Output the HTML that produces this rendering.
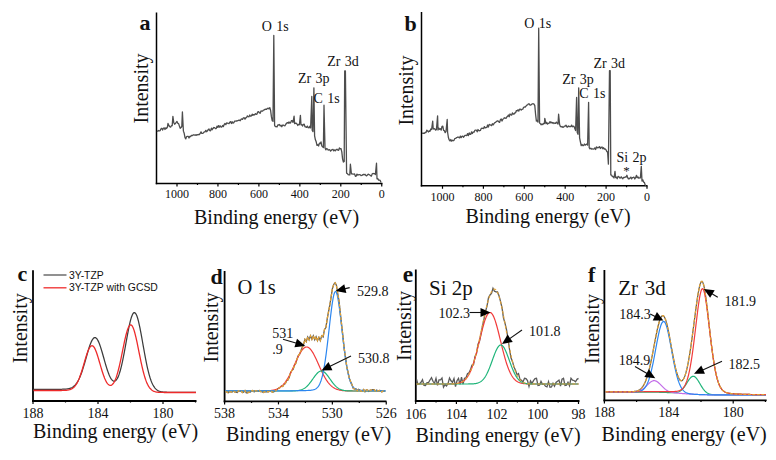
<!DOCTYPE html>
<html><head><meta charset="utf-8"><style>
html,body{margin:0;padding:0;background:#fff;width:776px;height:460px;overflow:hidden}
svg{display:block}
</style></head><body>
<svg width="776" height="460" viewBox="0 0 776 460">
<rect width="776" height="460" fill="#fff"/>
<line x1="156.5" y1="12.5" x2="156.5" y2="184.25" stroke="#000" stroke-width="1.5"/>
<line x1="155.75" y1="183.5" x2="382.5" y2="183.5" stroke="#000" stroke-width="1.5"/>
<line x1="381.75" y1="183.5" x2="381.75" y2="186.5" stroke="#000" stroke-width="1.2"/>
<line x1="340.8" y1="183.5" x2="340.8" y2="186.5" stroke="#000" stroke-width="1.2"/>
<line x1="299.85" y1="183.5" x2="299.85" y2="186.5" stroke="#000" stroke-width="1.2"/>
<line x1="258.9" y1="183.5" x2="258.9" y2="186.5" stroke="#000" stroke-width="1.2"/>
<line x1="217.95" y1="183.5" x2="217.95" y2="186.5" stroke="#000" stroke-width="1.2"/>
<line x1="177" y1="183.5" x2="177" y2="186.5" stroke="#000" stroke-width="1.2"/>
<line x1="361.27" y1="183.5" x2="361.27" y2="185" stroke="#000" stroke-width="1.2"/>
<line x1="320.32" y1="183.5" x2="320.32" y2="185" stroke="#000" stroke-width="1.2"/>
<line x1="279.38" y1="183.5" x2="279.38" y2="185" stroke="#000" stroke-width="1.2"/>
<line x1="238.43" y1="183.5" x2="238.43" y2="185" stroke="#000" stroke-width="1.2"/>
<line x1="197.48" y1="183.5" x2="197.48" y2="185" stroke="#000" stroke-width="1.2"/>
<text x="177" y="197.6" font-family='"Liberation Serif", serif' font-size="12" font-weight="normal" text-anchor="middle" fill="#111" >1000</text>
<text x="217.95" y="197.6" font-family='"Liberation Serif", serif' font-size="12" font-weight="normal" text-anchor="middle" fill="#111" >800</text>
<text x="258.9" y="197.6" font-family='"Liberation Serif", serif' font-size="12" font-weight="normal" text-anchor="middle" fill="#111" >600</text>
<text x="299.85" y="197.6" font-family='"Liberation Serif", serif' font-size="12" font-weight="normal" text-anchor="middle" fill="#111" >400</text>
<text x="340.8" y="197.6" font-family='"Liberation Serif", serif' font-size="12" font-weight="normal" text-anchor="middle" fill="#111" >200</text>
<text x="381.75" y="197.6" font-family='"Liberation Serif", serif' font-size="12" font-weight="normal" text-anchor="middle" fill="#111" >0</text>
<text x="276.6" y="224" font-family='"Liberation Serif", serif' font-size="20" font-weight="normal" text-anchor="middle" fill="#111" >Binding energy (eV)</text>
<text transform="translate(148,88.5) rotate(-90)" font-family='"Liberation Serif", serif' font-size="20" text-anchor="middle" fill="#111">Intensity</text>
<text x="139.5" y="29.5" font-family='"Liberation Serif", serif' font-size="22" font-weight="bold" text-anchor="start" fill="#111" >a</text>
<path d="M157,130.82 L157.8,131.29 L158.6,130.51 L159.4,130.79 L160.2,130.52 L161,128.73 L161.8,128.27 L162.6,130.09 L163.4,128.26 L164.2,127.86 L165,129.52 L165.8,127.82 L166.6,128.45 L167.4,127.18 L168,123.4 L169,125.76 L169.8,126.75 L170.6,127.09 L171.4,125.74 L172.2,125.67 L172.9,116.3 L173.8,122.75 L174.6,124.26 L175.4,123.52 L176.2,122.46 L177,121.46 L177.8,123.33 L178.6,123.6 L179.4,126.06 L180.2,128.3 L181,127.56 L181.8,126.49 L182.4,112 L183.4,131.14 L184.2,133.27 L185,137.6 L185.8,138.85 L186.6,136.55 L187.4,136.38 L188.2,136.32 L189,137.99 L189.8,136.35 L190.6,136.57 L191.4,135.45 L192.2,135.72 L193,135.13 L193.8,134.77 L194.6,135.11 L195.4,134.84 L196.2,135.4 L197,134.55 L197.8,134.92 L198.6,134.46 L199.4,134.54 L200.2,133.44 L201,131.85 L201.8,133.4 L202.6,133.4 L203.4,132.98 L204.2,131.83 L205,131.94 L205.8,130.37 L206.6,131.71 L207.4,130.77 L208.2,129.75 L209,128.91 L209.8,130.69 L210.6,130.78 L211.4,128.16 L212.2,129.75 L213,128.46 L213.8,127.52 L214.6,127.62 L215.4,128.59 L216.2,128.59 L217,126.17 L217.8,127.38 L218.6,125.63 L219.4,127.11 L220.2,125.84 L221,127 L221.8,126.99 L222.6,125.49 L223.4,126.5 L224.2,124.44 L225,123.56 L225.8,124.66 L226.6,122.91 L227.4,123.07 L228.2,123.35 L229,123.61 L229.8,122.16 L230.6,121.59 L231.4,123.47 L232.2,121.76 L233,123.17 L233.8,122.74 L234.6,121.12 L235.4,121.07 L236.2,120.95 L237,121.01 L237.8,120.61 L238.6,120.25 L239.4,120.14 L240.2,120.7 L241,119.31 L241.8,118.84 L242.6,119.32 L243.4,117.8 L244.2,117.7 L245,119.19 L245.8,117.73 L246.6,117.53 L247.4,115.87 L248.2,116.65 L249,116.81 L249.8,115.03 L250.6,116.26 L251.4,115.98 L252.2,114.18 L253,115.33 L253.8,114.59 L254.6,114.83 L255.4,113.66 L256.2,114.26 L257,114.02 L257.8,111.84 L258.6,111.59 L259.4,112.83 L260.2,113.21 L261,111 L261.8,111.18 L262.6,111.17 L263.4,110.1 L264.2,109.86 L265,109.36 L265.8,109.15 L266.6,109.41 L267.4,108.33 L268.2,108.21 L269,108.93 L269.8,107.66 L270.6,110.32 L271.4,116.67 L272.2,120.71 L273,121.28 L273.8,35.5 L274.6,125.32 L275.4,126.57 L276.2,126.73 L277,126.93 L277.8,124.9 L278.6,125 L279.4,124.55 L280.2,125.91 L281,125.27 L281.8,126.74 L282.6,125.14 L283.4,125.17 L284.2,125.58 L285,125.79 L285.8,124.26 L286.6,123.26 L287.4,122.59 L288.2,123.25 L289,121.96 L289.8,123.16 L290.6,122.84 L291.4,120.73 L292.2,120.57 L293,122.45 L294.1,116.2 L294.6,123.69 L295.4,123.12 L296.2,123.18 L297,123.93 L297.8,125.47 L298.6,124.34 L299.4,124.77 L300.4,115.3 L301,124.75 L301.8,124.6 L302.6,126.06 L303.4,124.29 L304.2,124.12 L305,126.78 L305.8,126.83 L306.6,127.33 L307.4,126.11 L308.2,127.68 L309,127.84 L309.8,126.22 L310.6,127.94 L311.8,96.5 L312.2,130.26 L313,131.6 L313.9,87.8 L314.6,135.82 L315.4,139.76 L316.2,141.84 L317,145.43 L317.8,144.65 L318.6,146.01 L319.4,143.13 L320.2,143.6 L321,141.91 L321.8,145.78 L322.6,146.83 L323.4,147.64 L324,105.2 L325,147.73 L325.8,149.8 L326.6,148.47 L327.4,148.96 L328.2,150.06 L329,149.86 L329.8,149.74 L330.6,151.14 L331.4,150.29 L332.2,149.59 L333,149.36 L333.8,150.94 L334.6,149.94 L335.4,150.73 L336.2,149.61 L337,149.21 L337.8,150.09 L338.6,150.32 L339.4,147.98 L340.2,148.93 L341,148.6 L341.8,151.83 L342.6,159.06 L343.4,162.05 L344.2,161.43 L344.7,71 L345.4,71 L346.6,173.16 L347.4,173.57 L348.2,174.65 L349,174.8 L349.8,174.94 L350.4,164.2 L351.4,173.75 L352.2,173.9 L353,174.1 L353.8,174.11 L354.6,173.98 L355.4,176.35 L356.2,176.05 L357,174.06 L357.8,175.16 L358.6,174.69 L359.4,174.7 L360.2,174.81 L361,175.59 L361.8,175.45 L362.6,174.87 L363.4,174.45 L364.2,174.82 L365,174.3 L365.8,175.44 L366.6,175.87 L367.4,175.01 L368.2,174.24 L369,174.51 L369.8,175.03 L370.6,175.65 L371.4,176.12 L372.2,173.89 L373,173.5 L373.8,173.55 L374.6,173.57 L375.4,174.51 L376.5,163.2 L377,178.73 L377.8,178.69 L378.6,180.09 L379.4,180.18 L380.2,180.44 L381,182.43" fill="none" stroke="#4d4d4d" stroke-width="1.3" stroke-linejoin="round"/>
<text x="261.8" y="31.3" font-family='"Liberation Serif", serif' font-size="14" font-weight="normal" text-anchor="start" fill="#111" word-spacing="0.8">O 1s</text>
<text x="298" y="83" font-family='"Liberation Serif", serif' font-size="14" font-weight="normal" text-anchor="start" fill="#111" word-spacing="0.8">Zr 3p</text>
<text x="313.6" y="102.6" font-family='"Liberation Serif", serif' font-size="14" font-weight="normal" text-anchor="start" fill="#111" word-spacing="0.8">C 1s</text>
<text x="327.2" y="66.3" font-family='"Liberation Serif", serif' font-size="14" font-weight="normal" text-anchor="start" fill="#111" word-spacing="0.8">Zr 3d</text>
<line x1="421.5" y1="12" x2="421.5" y2="186.5" stroke="#000" stroke-width="1.5"/>
<line x1="420.75" y1="185.75" x2="647.5" y2="185.75" stroke="#000" stroke-width="1.5"/>
<line x1="647" y1="185.75" x2="647" y2="188.75" stroke="#000" stroke-width="1.2"/>
<line x1="606.1" y1="185.75" x2="606.1" y2="188.75" stroke="#000" stroke-width="1.2"/>
<line x1="565.2" y1="185.75" x2="565.2" y2="188.75" stroke="#000" stroke-width="1.2"/>
<line x1="524.3" y1="185.75" x2="524.3" y2="188.75" stroke="#000" stroke-width="1.2"/>
<line x1="483.4" y1="185.75" x2="483.4" y2="188.75" stroke="#000" stroke-width="1.2"/>
<line x1="442.5" y1="185.75" x2="442.5" y2="188.75" stroke="#000" stroke-width="1.2"/>
<line x1="626.55" y1="185.75" x2="626.55" y2="187.25" stroke="#000" stroke-width="1.2"/>
<line x1="585.65" y1="185.75" x2="585.65" y2="187.25" stroke="#000" stroke-width="1.2"/>
<line x1="544.75" y1="185.75" x2="544.75" y2="187.25" stroke="#000" stroke-width="1.2"/>
<line x1="503.85" y1="185.75" x2="503.85" y2="187.25" stroke="#000" stroke-width="1.2"/>
<line x1="462.95" y1="185.75" x2="462.95" y2="187.25" stroke="#000" stroke-width="1.2"/>
<text x="442.5" y="201" font-family='"Liberation Serif", serif' font-size="12" font-weight="normal" text-anchor="middle" fill="#111" >1000</text>
<text x="483.4" y="201" font-family='"Liberation Serif", serif' font-size="12" font-weight="normal" text-anchor="middle" fill="#111" >800</text>
<text x="524.3" y="201" font-family='"Liberation Serif", serif' font-size="12" font-weight="normal" text-anchor="middle" fill="#111" >600</text>
<text x="565.2" y="201" font-family='"Liberation Serif", serif' font-size="12" font-weight="normal" text-anchor="middle" fill="#111" >400</text>
<text x="606.1" y="201" font-family='"Liberation Serif", serif' font-size="12" font-weight="normal" text-anchor="middle" fill="#111" >200</text>
<text x="647" y="201" font-family='"Liberation Serif", serif' font-size="12" font-weight="normal" text-anchor="middle" fill="#111" >0</text>
<text x="548" y="222.7" font-family='"Liberation Serif", serif' font-size="20" font-weight="normal" text-anchor="middle" fill="#111" >Binding energy (eV)</text>
<text transform="translate(413,90.6) rotate(-90)" font-family='"Liberation Serif", serif' font-size="20" text-anchor="middle" fill="#111">Intensity</text>
<text x="404.5" y="30.5" font-family='"Liberation Serif", serif' font-size="22" font-weight="bold" text-anchor="start" fill="#111" >b</text>
<path d="M422,133.22 L422.8,133.27 L423.6,133.14 L424.4,133.26 L425.2,132.47 L426,132.68 L426.8,130.09 L427.6,130.97 L428.4,131.94 L429.2,130.91 L430,131.31 L430.8,128.99 L431.6,129.54 L432.7,121.1 L433.2,128.99 L434,128.69 L434.8,128.9 L435.6,130.04 L436.4,129.74 L437.6,115.8 L438,130.1 L438.8,128.07 L439.6,129.27 L440.4,128.65 L441.2,130.07 L442,126.28 L442.8,126.23 L443.6,130.45 L444.4,130.69 L445.2,132.66 L446,131.33 L447.2,119.5 L447.6,132.27 L448.4,137.52 L449.2,139.93 L450,140.98 L450.8,139.51 L451.6,141.18 L452.4,140.29 L453.2,140.77 L454,140.34 L454.8,138.55 L455.6,138.47 L456.4,137.72 L457.2,137.43 L458,136.98 L458.8,137.35 L459.6,137.89 L460.4,136.09 L461.2,137.61 L462,136.48 L462.8,136.17 L463.6,137.25 L464.4,136.08 L465.2,135.31 L466,135.4 L466.8,135.63 L467.6,133.61 L468.4,135.65 L469.2,132.84 L470,134.38 L470.8,134.29 L471.6,131.8 L472.4,133.45 L473.2,132.02 L474,132.23 L474.8,130.4 L475.6,130.16 L476.4,130.17 L477.2,131.84 L478,129.52 L478.8,130.63 L479.6,130.74 L480.4,130.43 L481.2,128.54 L482,128.22 L482.8,128.32 L483.6,128.63 L484.4,126.55 L485.2,127.88 L486,127.66 L486.8,127.48 L487.6,125 L488.4,127.02 L489.2,124.46 L490,124.76 L490.8,125.12 L491.6,125.58 L492.4,123.74 L493.2,124.91 L494,123.58 L494.8,122.64 L495.6,122.31 L496.4,121.6 L497.2,121 L498,120.84 L498.8,121.91 L499.6,122.36 L500.4,119.79 L501.2,119.04 L502,121.03 L502.8,119.4 L503.6,118.61 L504.4,117.72 L505.2,118.19 L506,118.34 L506.8,116.92 L507.6,116.38 L508.4,114.97 L509.2,116.75 L510,114 L510.8,114.74 L511.6,115.18 L512.4,112.89 L513.2,114 L514,114.11 L514.8,112.82 L515.6,112.78 L516.4,110.55 L517.2,110.95 L518,109.75 L518.8,111.11 L519.6,109.22 L520.4,109.18 L521.2,110.14 L522,109.31 L522.8,109.17 L523.6,107.36 L524.4,107 L525.2,107.17 L526,106.06 L526.8,105.12 L527.6,104.96 L528.4,103.83 L529.2,103.98 L530,105.17 L530.8,105.1 L531.6,104.23 L532.4,103.9 L533.2,103.74 L534,104.13 L534.8,105.65 L535.6,114.54 L536.4,121.09 L537.2,120.4 L538,122.11 L538.7,28.25 L539.6,123.06 L540.4,123.66 L541.2,124.83 L542,123.99 L542.8,124.64 L543.6,123.3 L544.4,123.59 L544.8,118.4 L546,123.65 L546.8,122.45 L547.6,124.11 L548.4,123.3 L549.2,123.08 L550,121.56 L550.8,122.92 L551.6,122.11 L552.4,123.17 L553.2,122.58 L554,123.47 L554.8,122.99 L555.6,123.34 L556.4,122.13 L557.2,123.06 L558,124.04 L558.6,114.2 L559.6,124.5 L560.4,126.52 L561.2,126.96 L562,126.49 L562.8,127.24 L563.6,127.19 L564.4,126.05 L565.2,126.08 L566,125.13 L566.8,126.88 L567.6,127.14 L568.4,125.94 L569.2,126.5 L570,126.57 L570.8,126.6 L571.6,125.15 L572.4,126.73 L573.2,126.21 L574,126.43 L574.8,128.49 L575.6,130.55 L576.6,97.4 L577.2,132.24 L578,134.33 L578.7,87.8 L579.6,137.87 L580.4,141.93 L581.2,145.59 L582,144.47 L582.8,145.68 L583.6,145.54 L584.4,144.01 L585.2,145.13 L586,144.49 L586.8,144.04 L587.6,145.13 L588.6,102.3 L589.2,147.6 L590,148.8 L590.8,148.22 L591.6,149.17 L592.4,148.78 L593.2,149.22 L594,148.99 L594.8,147.91 L595.6,149.47 L596.4,146.96 L597.2,147.84 L598,147.34 L598.8,147.52 L599.6,146.58 L600.4,148.5 L601.2,147.59 L602,146.99 L602.8,148.78 L603.6,147.71 L604.4,149.16 L605.2,148.9 L606,149.81 L606.8,151.55 L607.6,151.94 L608.4,164.14 L609.5,70.75 L610.2,70.75 L610.8,174.96 L611.6,175.15 L612.4,176.57 L613.2,176.73 L614,177.99 L615,171.3 L615.6,177.56 L616.4,177.13 L617.2,178.72 L618,176.4 L618.8,176.68 L619.6,177.87 L620.4,178 L621.2,176.77 L622,178.04 L622.8,178.72 L623.6,177.38 L624.4,177.52 L625.2,176.99 L626,177.16 L626.9,175.3 L627.6,177.39 L628.4,178.9 L629.2,178.78 L630,177.95 L630.8,177.08 L631.6,178.95 L632.4,177.69 L633.2,177.48 L634,177.23 L634.8,178.96 L635.6,177.68 L636.5,175.3 L637.2,177.73 L638,176.87 L638.8,178.23 L639.6,177.82 L640.4,177.9 L641.3,166.3 L642,181.05 L642.8,179.81 L643.6,182.1 L644.4,182.39 L645.2,185.07 L646,185.63" fill="none" stroke="#4d4d4d" stroke-width="1.3" stroke-linejoin="round"/>
<text x="524.3" y="27.6" font-family='"Liberation Serif", serif' font-size="14" font-weight="normal" text-anchor="start" fill="#111" word-spacing="0.8">O 1s</text>
<text x="562.2" y="84.3" font-family='"Liberation Serif", serif' font-size="14" font-weight="normal" text-anchor="start" fill="#111" word-spacing="0.8">Zr 3p</text>
<text x="579.3" y="98.3" font-family='"Liberation Serif", serif' font-size="14" font-weight="normal" text-anchor="start" fill="#111" word-spacing="0.8">C 1s</text>
<text x="593.5" y="68" font-family='"Liberation Serif", serif' font-size="14" font-weight="normal" text-anchor="start" fill="#111" word-spacing="0.8">Zr 3d</text>
<text x="616.5" y="161.7" font-family='"Liberation Serif", serif' font-size="14" font-weight="normal" text-anchor="start" fill="#111" word-spacing="0.8">Si 2p</text>
<text x="626.5" y="175" font-family='"Liberation Serif", serif' font-size="13" font-weight="normal" text-anchor="middle" fill="#111" >*</text>
<line x1="33" y1="270.3" x2="33" y2="401.9" stroke="#000" stroke-width="1.8"/>
<line x1="32.1" y1="401" x2="196.5" y2="401" stroke="#000" stroke-width="1.8"/>
<line x1="33" y1="401" x2="33" y2="404" stroke="#000" stroke-width="1.2"/>
<line x1="98" y1="401" x2="98" y2="404" stroke="#000" stroke-width="1.2"/>
<line x1="163" y1="401" x2="163" y2="404" stroke="#000" stroke-width="1.2"/>
<line x1="65.5" y1="401" x2="65.5" y2="402.5" stroke="#000" stroke-width="1.2"/>
<line x1="130.5" y1="401" x2="130.5" y2="402.5" stroke="#000" stroke-width="1.2"/>
<line x1="195.5" y1="401" x2="195.5" y2="402.5" stroke="#000" stroke-width="1.2"/>
<text x="33" y="417.7" font-family='"Liberation Serif", serif' font-size="14" font-weight="normal" text-anchor="middle" fill="#111" >188</text>
<text x="98" y="417.7" font-family='"Liberation Serif", serif' font-size="14" font-weight="normal" text-anchor="middle" fill="#111" >184</text>
<text x="163" y="417.7" font-family='"Liberation Serif", serif' font-size="14" font-weight="normal" text-anchor="middle" fill="#111" >180</text>
<text x="115.6" y="437.5" font-family='"Liberation Serif", serif' font-size="20" font-weight="normal" text-anchor="middle" fill="#111" >Binding energy (eV)</text>
<text transform="translate(27,328.3) rotate(-90)" font-family='"Liberation Serif", serif' font-size="20" text-anchor="middle" fill="#111">Intensity</text>
<text x="17.5" y="281.4" font-family='"Liberation Serif", serif' font-size="22" font-weight="bold" text-anchor="start" fill="#111" >c</text>
<path d="M33.5,389.3 L34,389.3 L34.5,389.3 L35,389.3 L35.5,389.3 L36,389.3 L36.5,389.3 L37,389.3 L37.5,389.3 L38,389.3 L38.5,389.3 L39,389.3 L39.5,389.3 L40,389.3 L40.5,389.3 L41,389.3 L41.5,389.3 L42,389.3 L42.5,389.3 L43,389.3 L43.5,389.3 L44,389.3 L44.5,389.3 L45,389.3 L45.5,389.3 L46,389.3 L46.5,389.3 L47,389.3 L47.5,389.3 L48,389.3 L48.5,389.3 L49,389.3 L49.5,389.3 L50,389.3 L50.5,389.3 L51,389.3 L51.5,389.3 L52,389.3 L52.5,389.3 L53,389.3 L53.5,389.3 L54,389.3 L54.5,389.3 L55,389.3 L55.5,389.3 L56,389.3 L56.5,389.3 L57,389.3 L57.5,389.3 L58,389.29 L58.5,389.29 L59,389.29 L59.5,389.29 L60,389.28 L60.5,389.28 L61,389.27 L61.5,389.26 L62,389.25 L62.5,389.24 L63,389.23 L63.5,389.21 L64,389.19 L64.5,389.16 L65,389.13 L65.5,389.1 L66,389.05 L66.5,389 L67,388.94 L67.5,388.87 L68,388.79 L68.5,388.7 L69,388.58 L69.5,388.46 L70,388.31 L70.5,388.14 L71,387.95 L71.5,387.73 L72,387.48 L72.5,387.19 L73,386.87 L73.5,386.51 L74,386.11 L74.5,385.66 L75,385.17 L75.5,384.61 L76,384.01 L76.5,383.34 L77,382.61 L77.5,381.82 L78,380.95 L78.5,380.02 L79,379.02 L79.5,377.94 L80,376.79 L80.5,375.57 L81,374.27 L81.5,372.91 L82,371.48 L82.5,369.98 L83,368.43 L83.5,366.82 L84,365.16 L84.5,363.47 L85,361.74 L85.5,359.99 L86,358.23 L86.5,356.46 L87,354.71 L87.5,352.98 L88,351.28 L88.5,349.62 L89,348.03 L89.5,346.51 L90,345.07 L90.5,343.73 L91,342.5 L91.5,341.38 L92,340.4 L92.5,339.55 L93,338.85 L93.5,338.3 L94,337.91 L94.5,337.68 L95,337.62 L95.5,337.72 L96,337.98 L96.5,338.41 L97,338.99 L97.5,339.73 L98,340.61 L98.5,341.63 L99,342.78 L99.5,344.04 L100,345.42 L100.5,346.89 L101,348.44 L101.5,350.06 L102,351.75 L102.5,353.47 L103,355.23 L103.5,357.01 L104,358.79 L104.5,360.56 L105,362.32 L105.5,364.05 L106,365.74 L106.5,367.37 L107,368.95 L107.5,370.46 L108,371.9 L108.5,373.25 L109,374.52 L109.5,375.69 L110,376.76 L110.5,377.72 L111,378.58 L111.5,379.32 L112,379.94 L112.5,380.45 L113,380.83 L113.5,381.08 L114,381.2 L114.5,381.19 L115,381.04 L115.5,380.75 L116,380.32 L116.5,379.74 L117,379.02 L117.5,378.15 L118,377.13 L118.5,375.96 L119,374.64 L119.5,373.17 L120,371.56 L120.5,369.79 L121,367.89 L121.5,365.85 L122,363.68 L122.5,361.39 L123,358.98 L123.5,356.48 L124,353.89 L124.5,351.22 L125,348.5 L125.5,345.73 L126,342.95 L126.5,340.16 L127,337.4 L127.5,334.67 L128,332.01 L128.5,329.44 L129,326.97 L129.5,324.64 L130,322.46 L130.5,320.45 L131,318.64 L131.5,317.04 L132,315.67 L132.5,314.54 L133,313.66 L133.5,313.05 L134,312.7 L134.5,312.63 L135,312.84 L135.5,313.31 L136,314.05 L136.5,315.05 L137,316.31 L137.5,317.8 L138,319.51 L138.5,321.42 L139,323.53 L139.5,325.8 L140,328.22 L140.5,330.77 L141,333.41 L141.5,336.14 L142,338.93 L142.5,341.75 L143,344.59 L143.5,347.42 L144,350.23 L144.5,353 L145,355.72 L145.5,358.37 L146,360.93 L146.5,363.4 L147,365.76 L147.5,368.02 L148,370.16 L148.5,372.19 L149,374.09 L149.5,375.86 L150,377.52 L150.5,379.05 L151,380.47 L151.5,381.77 L152,382.96 L152.5,384.04 L153,385.03 L153.5,385.92 L154,386.72 L154.5,387.43 L155,388.07 L155.5,388.64 L156,389.14 L156.5,389.58 L157,389.97 L157.5,390.31 L158,390.61 L158.5,390.86 L159,391.09 L159.5,391.28 L160,391.44 L160.5,391.58 L161,391.7 L161.5,391.8 L162,391.89 L162.5,391.96 L163,392.02 L163.5,392.07 L164,392.11 L164.5,392.15 L165,392.17 L165.5,392.2 L166,392.22 L166.5,392.23 L167,392.25 L167.5,392.26 L168,392.27 L168.5,392.27 L169,392.28 L169.5,392.28 L170,392.29 L170.5,392.29 L171,392.29 L171.5,392.29 L172,392.29 L172.5,392.29 L173,392.3 L173.5,392.3 L174,392.3 L174.5,392.3 L175,392.3 L175.5,392.3 L176,392.3 L176.5,392.3 L177,392.3 L177.5,392.3 L178,392.3 L178.5,392.3 L179,392.3 L179.5,392.3 L180,392.3 L180.5,392.3 L181,392.3 L181.5,392.3 L182,392.3 L182.5,392.3 L183,392.3 L183.5,392.3 L184,392.3 L184.5,392.3 L185,392.3 L185.5,392.3 L186,392.3 L186.5,392.3 L187,392.3 L187.5,392.3 L188,392.3 L188.5,392.3 L189,392.3 L189.5,392.3 L190,392.3 L190.5,392.3 L191,392.3 L191.5,392.3 L192,392.3 L192.5,392.3 L193,392.3 L193.5,392.3 L194,392.3 L194.5,392.3 L195,392.3 L195.5,392.3 L196,392.3" fill="none" stroke="#3c3c3c" stroke-width="1.25"/>
<path d="M33.5,390.5 L34,390.5 L34.5,390.5 L35,390.5 L35.5,390.5 L36,390.5 L36.5,390.5 L37,390.5 L37.5,390.5 L38,390.5 L38.5,390.5 L39,390.5 L39.5,390.5 L40,390.5 L40.5,390.5 L41,390.5 L41.5,390.5 L42,390.5 L42.5,390.5 L43,390.5 L43.5,390.5 L44,390.5 L44.5,390.5 L45,390.5 L45.5,390.5 L46,390.5 L46.5,390.5 L47,390.5 L47.5,390.5 L48,390.5 L48.5,390.5 L49,390.5 L49.5,390.5 L50,390.5 L50.5,390.5 L51,390.5 L51.5,390.5 L52,390.5 L52.5,390.5 L53,390.5 L53.5,390.5 L54,390.5 L54.5,390.5 L55,390.5 L55.5,390.5 L56,390.5 L56.5,390.5 L57,390.5 L57.5,390.5 L58,390.5 L58.5,390.5 L59,390.5 L59.5,390.49 L60,390.49 L60.5,390.49 L61,390.48 L61.5,390.48 L62,390.47 L62.5,390.46 L63,390.45 L63.5,390.44 L64,390.42 L64.5,390.4 L65,390.38 L65.5,390.35 L66,390.31 L66.5,390.26 L67,390.21 L67.5,390.14 L68,390.06 L68.5,389.97 L69,389.86 L69.5,389.73 L70,389.58 L70.5,389.41 L71,389.2 L71.5,388.96 L72,388.69 L72.5,388.38 L73,388.02 L73.5,387.62 L74,387.17 L74.5,386.65 L75,386.08 L75.5,385.45 L76,384.74 L76.5,383.96 L77,383.11 L77.5,382.18 L78,381.18 L78.5,380.09 L79,378.92 L79.5,377.67 L80,376.35 L80.5,374.95 L81,373.48 L81.5,371.95 L82,370.36 L82.5,368.72 L83,367.05 L83.5,365.35 L84,363.63 L84.5,361.9 L85,360.19 L85.5,358.51 L86,356.87 L86.5,355.29 L87,353.77 L87.5,352.35 L88,351.03 L88.5,349.83 L89,348.77 L89.5,347.84 L90,347.07 L90.5,346.46 L91,346.03 L91.5,345.77 L92,345.69 L92.5,345.79 L93,346.07 L93.5,346.53 L94,347.15 L94.5,347.95 L95,348.89 L95.5,349.98 L96,351.2 L96.5,352.54 L97,353.98 L97.5,355.51 L98,357.12 L98.5,358.78 L99,360.48 L99.5,362.2 L100,363.94 L100.5,365.67 L101,367.38 L101.5,369.06 L102,370.69 L102.5,372.28 L103,373.79 L103.5,375.24 L104,376.61 L104.5,377.89 L105,379.08 L105.5,380.18 L106,381.17 L106.5,382.07 L107,382.86 L107.5,383.55 L108,384.13 L108.5,384.6 L109,384.96 L109.5,385.21 L110,385.35 L110.5,385.38 L111,385.3 L111.5,385.1 L112,384.79 L112.5,384.35 L113,383.8 L113.5,383.13 L114,382.33 L114.5,381.41 L115,380.36 L115.5,379.18 L116,377.88 L116.5,376.45 L117,374.89 L117.5,373.22 L118,371.42 L118.5,369.51 L119,367.49 L119.5,365.37 L120,363.16 L120.5,360.87 L121,358.51 L121.5,356.1 L122,353.65 L122.5,351.19 L123,348.72 L123.5,346.26 L124,343.85 L124.5,341.49 L125,339.21 L125.5,337.04 L126,334.98 L126.5,333.07 L127,331.32 L127.5,329.75 L128,328.37 L128.5,327.2 L129,326.26 L129.5,325.56 L130,325.09 L130.5,324.88 L131,324.91 L131.5,325.19 L132,325.72 L132.5,326.49 L133,327.5 L133.5,328.72 L134,330.16 L134.5,331.78 L135,333.59 L135.5,335.55 L136,337.65 L136.5,339.87 L137,342.18 L137.5,344.58 L138,347.03 L138.5,349.51 L139,352.01 L139.5,354.5 L140,356.97 L140.5,359.41 L141,361.79 L141.5,364.11 L142,366.35 L142.5,368.5 L143,370.55 L143.5,372.51 L144,374.36 L144.5,376.09 L145,377.72 L145.5,379.24 L146,380.64 L146.5,381.93 L147,383.12 L147.5,384.21 L148,385.19 L148.5,386.09 L149,386.89 L149.5,387.61 L150,388.26 L150.5,388.83 L151,389.34 L151.5,389.78 L152,390.18 L152.5,390.52 L153,390.82 L153.5,391.08 L154,391.3 L154.5,391.49 L155,391.66 L155.5,391.8 L156,391.92 L156.5,392.02 L157,392.1 L157.5,392.17 L158,392.23 L158.5,392.28 L159,392.32 L159.5,392.35 L160,392.38 L160.5,392.4 L161,392.42 L161.5,392.44 L162,392.45 L162.5,392.46 L163,392.47 L163.5,392.47 L164,392.48 L164.5,392.48 L165,392.49 L165.5,392.49 L166,392.49 L166.5,392.49 L167,392.49 L167.5,392.5 L168,392.5 L168.5,392.5 L169,392.5 L169.5,392.5 L170,392.5 L170.5,392.5 L171,392.5 L171.5,392.5 L172,392.5 L172.5,392.5 L173,392.5 L173.5,392.5 L174,392.5 L174.5,392.5 L175,392.5 L175.5,392.5 L176,392.5 L176.5,392.5 L177,392.5 L177.5,392.5 L178,392.5 L178.5,392.5 L179,392.5 L179.5,392.5 L180,392.5 L180.5,392.5 L181,392.5 L181.5,392.5 L182,392.5 L182.5,392.5 L183,392.5 L183.5,392.5 L184,392.5 L184.5,392.5 L185,392.5 L185.5,392.5 L186,392.5 L186.5,392.5 L187,392.5 L187.5,392.5 L188,392.5 L188.5,392.5 L189,392.5 L189.5,392.5 L190,392.5 L190.5,392.5 L191,392.5 L191.5,392.5 L192,392.5 L192.5,392.5 L193,392.5 L193.5,392.5 L194,392.5 L194.5,392.5 L195,392.5 L195.5,392.5 L196,392.5" fill="none" stroke="#ee2a2a" stroke-width="1.3"/>
<line x1="43.5" y1="275" x2="66.5" y2="275" stroke="#555" stroke-width="1.3"/>
<line x1="43.5" y1="287.8" x2="66.5" y2="287.8" stroke="#f03a3a" stroke-width="1.4"/>
<text x="68.9" y="278.6" font-family='"Liberation Sans", sans-serif' font-size="10.4" font-weight="normal" text-anchor="start" fill="#111" >3Y-TZP</text>
<text x="68.9" y="291.1" font-family='"Liberation Sans", sans-serif' font-size="10.4" font-weight="normal" text-anchor="start" fill="#111" >3Y-TZP with GCSD</text>
<line x1="224.6" y1="271" x2="224.6" y2="402.3" stroke="#000" stroke-width="1.8"/>
<line x1="223.7" y1="401.4" x2="386.5" y2="401.4" stroke="#000" stroke-width="1.8"/>
<line x1="224.6" y1="401.4" x2="224.6" y2="404.4" stroke="#000" stroke-width="1.2"/>
<line x1="278.48" y1="401.4" x2="278.48" y2="404.4" stroke="#000" stroke-width="1.2"/>
<line x1="332.36" y1="401.4" x2="332.36" y2="404.4" stroke="#000" stroke-width="1.2"/>
<line x1="386.24" y1="401.4" x2="386.24" y2="404.4" stroke="#000" stroke-width="1.2"/>
<line x1="251.54" y1="401.4" x2="251.54" y2="402.9" stroke="#000" stroke-width="1.2"/>
<line x1="305.42" y1="401.4" x2="305.42" y2="402.9" stroke="#000" stroke-width="1.2"/>
<line x1="359.3" y1="401.4" x2="359.3" y2="402.9" stroke="#000" stroke-width="1.2"/>
<text x="224.6" y="418.2" font-family='"Liberation Serif", serif' font-size="14" font-weight="normal" text-anchor="middle" fill="#111" >538</text>
<text x="278.48" y="418.2" font-family='"Liberation Serif", serif' font-size="14" font-weight="normal" text-anchor="middle" fill="#111" >534</text>
<text x="332.36" y="418.2" font-family='"Liberation Serif", serif' font-size="14" font-weight="normal" text-anchor="middle" fill="#111" >530</text>
<text x="386.24" y="418.2" font-family='"Liberation Serif", serif' font-size="14" font-weight="normal" text-anchor="middle" fill="#111" >526</text>
<text x="308.5" y="441.4" font-family='"Liberation Serif", serif' font-size="20" font-weight="normal" text-anchor="middle" fill="#111" >Binding energy (eV)</text>
<text transform="translate(218,327.5) rotate(-90)" font-family='"Liberation Serif", serif' font-size="20" text-anchor="middle" fill="#111">Intensity</text>
<text x="210.5" y="283.7" font-family='"Liberation Serif", serif' font-size="22" font-weight="bold" text-anchor="start" fill="#111" >d</text>
<text x="237.5" y="293.8" font-family='"Liberation Serif", serif' font-size="20.5" font-weight="normal" text-anchor="start" fill="#111" >O 1s</text>
<path d="M225.5,391.65 L226.8,391.91 L228.1,392.78 L229.4,391.68 L230.7,391.78 L232,391.97 L233.3,391 L234.6,391.79 L235.9,392.07 L237.2,392.46 L238.5,390.78 L239.8,391.28 L241.1,390.77 L242.4,392.49 L243.7,392.21 L245,390.65 L246.3,392.9 L247.6,392.86 L248.9,392.11 L250.2,392.02 L251.5,390.92 L252.8,390.57 L254.1,391.8 L255.4,390.67 L256.7,390.98 L258,391.1 L259.3,390.58 L260.6,391.61 L261.9,391.54 L263.2,392.49 L264.5,391.68 L265.8,391.93 L267.1,391.53 L268.4,391.84 L269.7,391.24 L271,390.67 L272.3,392.2 L273.6,391.94 L274.9,391.24 L276.2,390.5 L277.5,389.02 L278.8,388.15 L280.1,387.47 L281.4,385.95 L282.7,386.43 L284,384.16 L285.3,383.6 L286.6,380.63 L287.9,379.91 L289.2,377.32 L290.5,372.75 L291.8,370.54 L293.1,369.36 L294.4,365.34 L295.7,363.56 L297,359.17 L298.3,355.48 L299.6,354.04 L300.9,351.01 L302.2,347.43 L303.5,344.85 L304.9,339.46 L306.3,341.62 L307.7,336.93 L309.1,339.79 L310.5,335.78 L311.9,339.27 L313.3,335.83 L314.7,339.79 L316.1,336.67 L317.5,340.72 L318.9,337.31 L320.3,340.58 L321.7,335.79 L323.1,336.99 L324.5,329.49 L325.9,327.57 L327.3,318.41 L328.6,311.29 L329.9,304.65 L331.2,296.33 L332.5,288.23 L333.8,284.24 L335.1,282.78 L336.4,285.31 L337.7,293.31 L339,300.96 L340.3,312.94 L341.6,324.65 L342.9,336.03 L344.2,348.6 L345.5,357.19 L346.8,366.9 L348.1,372.46 L349.4,378.46 L350.7,381.84 L352,384.73 L353.3,388.3 L354.6,389.13 L355.9,388.73 L357.2,390.62 L358.5,389.32 L359.8,389.95 L361.1,391.19 L362.4,390.76 L363.7,389.53 L365,391.71 L366.3,389.89 L367.6,390.03 L368.9,391.29 L370.2,390.25 L371.5,390.2 L372.8,389.68 L374.1,389.74 L375.4,390.94 L376.7,390.14 L378,391.02 L379.3,390.48 L380.6,390.69 L381.9,391.91 L383.2,390.78 L384.5,391.01" fill="none" stroke="#5a5a5a" stroke-width="1.3"/>
<path d="M225.5,391 L226,391 L226.5,391 L227,391 L227.5,391 L228,391 L228.5,391 L229,391 L229.5,391 L230,391 L230.5,391 L231,391 L231.5,391 L232,391 L232.5,391 L233,391 L233.5,391 L234,391 L234.5,391 L235,391 L235.5,391 L236,391 L236.5,391 L237,391 L237.5,391 L238,391 L238.5,391 L239,391 L239.5,391 L240,391 L240.5,391 L241,391 L241.5,391 L242,391 L242.5,391 L243,391 L243.5,391 L244,391 L244.5,391 L245,391 L245.5,391 L246,391 L246.5,391 L247,391 L247.5,391 L248,391 L248.5,391 L249,391 L249.5,391 L250,391 L250.5,391 L251,391 L251.5,391 L252,391 L252.5,391 L253,391 L253.5,391 L254,391 L254.5,391 L255,391 L255.5,391 L256,390.99 L256.5,390.99 L257,390.99 L257.5,390.99 L258,390.99 L258.5,390.99 L259,390.99 L259.5,390.98 L260,390.98 L260.5,390.98 L261,390.97 L261.5,390.97 L262,390.96 L262.5,390.95 L263,390.95 L263.5,390.94 L264,390.93 L264.5,390.92 L265,390.9 L265.5,390.89 L266,390.87 L266.5,390.85 L267,390.83 L267.5,390.8 L268,390.77 L268.5,390.74 L269,390.7 L269.5,390.66 L270,390.61 L270.5,390.56 L271,390.5 L271.5,390.43 L272,390.36 L272.5,390.27 L273,390.18 L273.5,390.08 L274,389.97 L274.5,389.84 L275,389.71 L275.5,389.55 L276,389.39 L276.5,389.2 L277,389.01 L277.5,388.79 L278,388.55 L278.5,388.29 L279,388.01 L279.5,387.71 L280,387.38 L280.5,387.03 L281,386.65 L281.5,386.24 L282,385.81 L282.5,385.34 L283,384.84 L283.5,384.31 L284,383.75 L284.5,383.16 L285,382.53 L285.5,381.86 L286,381.17 L286.5,380.43 L287,379.67 L287.5,378.86 L288,378.03 L288.5,377.16 L289,376.26 L289.5,375.33 L290,374.37 L290.5,373.38 L291,372.37 L291.5,371.33 L292,370.27 L292.5,369.19 L293,368.1 L293.5,366.99 L294,365.88 L294.5,364.76 L295,363.64 L295.5,362.52 L296,361.41 L296.5,360.31 L297,359.22 L297.5,358.15 L298,357.11 L298.5,356.1 L299,355.12 L299.5,354.17 L300,353.27 L300.5,352.42 L301,351.61 L301.5,350.86 L302,350.17 L302.5,349.54 L303,348.97 L303.5,348.47 L304,348.04 L304.5,347.68 L305,347.4 L305.5,347.19 L306,347.06 L306.5,347 L307,347.02 L307.5,347.13 L308,347.3 L308.5,347.56 L309,347.89 L309.5,348.29 L310,348.76 L310.5,349.3 L311,349.91 L311.5,350.58 L312,351.3 L312.5,352.09 L313,352.92 L313.5,353.81 L314,354.74 L314.5,355.7 L315,356.7 L315.5,357.73 L316,358.79 L316.5,359.87 L317,360.97 L317.5,362.08 L318,363.19 L318.5,364.31 L319,365.43 L319.5,366.55 L320,367.66 L320.5,368.76 L321,369.84 L321.5,370.91 L322,371.95 L322.5,372.98 L323,373.98 L323.5,374.95 L324,375.89 L324.5,376.81 L325,377.69 L325.5,378.53 L326,379.35 L326.5,380.13 L327,380.88 L327.5,381.59 L328,382.27 L328.5,382.91 L329,383.52 L329.5,384.09 L330,384.63 L330.5,385.14 L331,385.62 L331.5,386.07 L332,386.49 L332.5,386.88 L333,387.24 L333.5,387.58 L334,387.89 L334.5,388.18 L335,388.45 L335.5,388.69 L336,388.92 L336.5,389.13 L337,389.32 L337.5,389.49 L338,389.65 L338.5,389.79 L339,389.92 L339.5,390.04 L340,390.14 L340.5,390.24 L341,390.33 L341.5,390.4 L342,390.47 L342.5,390.54 L343,390.59 L343.5,390.64 L344,390.68 L344.5,390.72 L345,390.76 L345.5,390.79 L346,390.82 L346.5,390.84 L347,390.86 L347.5,390.88 L348,390.9 L348.5,390.91 L349,390.92 L349.5,390.93 L350,390.94 L350.5,390.95 L351,390.96 L351.5,390.96 L352,390.97 L352.5,390.97 L353,390.98 L353.5,390.98 L354,390.98 L354.5,390.99 L355,390.99 L355.5,390.99 L356,390.99 L356.5,390.99 L357,390.99 L357.5,391 L358,391 L358.5,391 L359,391 L359.5,391 L360,391 L360.5,391 L361,391 L361.5,391 L362,391 L362.5,391 L363,391 L363.5,391 L364,391 L364.5,391 L365,391 L365.5,391 L366,391 L366.5,391 L367,391 L367.5,391 L368,391 L368.5,391 L369,391 L369.5,391 L370,391 L370.5,391 L371,391 L371.5,391 L372,391 L372.5,391 L373,391 L373.5,391 L374,391 L374.5,391 L375,391 L375.5,391 L376,391 L376.5,391 L377,391 L377.5,391 L378,391 L378.5,391 L379,391 L379.5,391 L380,391 L380.5,391 L381,391 L381.5,391 L382,391 L382.5,391 L383,391 L383.5,391 L384,391 L384.5,391 L385,391 L385.5,391" fill="none" stroke="#f23c3c" stroke-width="1.2"/>
<path d="M225.5,391 L226,391 L226.5,391 L227,391 L227.5,391 L228,391 L228.5,391 L229,391 L229.5,391 L230,391 L230.5,391 L231,391 L231.5,391 L232,391 L232.5,391 L233,391 L233.5,391 L234,391 L234.5,391 L235,391 L235.5,391 L236,391 L236.5,391 L237,391 L237.5,391 L238,391 L238.5,391 L239,391 L239.5,391 L240,391 L240.5,391 L241,391 L241.5,391 L242,391 L242.5,391 L243,391 L243.5,391 L244,391 L244.5,391 L245,391 L245.5,391 L246,391 L246.5,391 L247,391 L247.5,391 L248,391 L248.5,391 L249,391 L249.5,391 L250,391 L250.5,391 L251,391 L251.5,391 L252,391 L252.5,391 L253,391 L253.5,391 L254,391 L254.5,391 L255,391 L255.5,391 L256,391 L256.5,391 L257,391 L257.5,391 L258,391 L258.5,391 L259,391 L259.5,391 L260,391 L260.5,391 L261,391 L261.5,391 L262,391 L262.5,391 L263,391 L263.5,391 L264,391 L264.5,391 L265,391 L265.5,391 L266,391 L266.5,391 L267,391 L267.5,391 L268,391 L268.5,391 L269,391 L269.5,391 L270,391 L270.5,391 L271,391 L271.5,391 L272,391 L272.5,391 L273,391 L273.5,391 L274,391 L274.5,391 L275,391 L275.5,391 L276,391 L276.5,391 L277,391 L277.5,391 L278,391 L278.5,391 L279,391 L279.5,391 L280,391 L280.5,391 L281,391 L281.5,391 L282,391 L282.5,391 L283,391 L283.5,391 L284,391 L284.5,391 L285,391 L285.5,391 L286,391 L286.5,391 L287,390.99 L287.5,390.99 L288,390.99 L288.5,390.99 L289,390.99 L289.5,390.98 L290,390.98 L290.5,390.97 L291,390.97 L291.5,390.96 L292,390.95 L292.5,390.94 L293,390.92 L293.5,390.91 L294,390.89 L294.5,390.87 L295,390.84 L295.5,390.81 L296,390.77 L296.5,390.73 L297,390.68 L297.5,390.62 L298,390.55 L298.5,390.47 L299,390.38 L299.5,390.28 L300,390.16 L300.5,390.03 L301,389.88 L301.5,389.71 L302,389.52 L302.5,389.31 L303,389.08 L303.5,388.82 L304,388.54 L304.5,388.23 L305,387.89 L305.5,387.52 L306,387.13 L306.5,386.7 L307,386.24 L307.5,385.75 L308,385.23 L308.5,384.68 L309,384.1 L309.5,383.49 L310,382.86 L310.5,382.21 L311,381.54 L311.5,380.85 L312,380.15 L312.5,379.44 L313,378.73 L313.5,378.01 L314,377.31 L314.5,376.61 L315,375.94 L315.5,375.28 L316,374.65 L316.5,374.06 L317,373.51 L317.5,373 L318,372.54 L318.5,372.13 L319,371.78 L319.5,371.49 L320,371.27 L320.5,371.11 L321,371.02 L321.5,371 L322,371.05 L322.5,371.17 L323,371.35 L323.5,371.6 L324,371.91 L324.5,372.29 L325,372.72 L325.5,373.2 L326,373.72 L326.5,374.29 L327,374.9 L327.5,375.54 L328,376.21 L328.5,376.89 L329,377.59 L329.5,378.3 L330,379.01 L330.5,379.72 L331,380.43 L331.5,381.13 L332,381.81 L332.5,382.47 L333,383.12 L333.5,383.74 L334,384.33 L334.5,384.9 L335,385.44 L335.5,385.95 L336,386.43 L336.5,386.87 L337,387.29 L337.5,387.67 L338,388.03 L338.5,388.36 L339,388.66 L339.5,388.93 L340,389.18 L340.5,389.4 L341,389.6 L341.5,389.78 L342,389.94 L342.5,390.08 L343,390.21 L343.5,390.32 L344,390.42 L344.5,390.5 L345,390.58 L345.5,390.64 L346,390.7 L346.5,390.74 L347,390.79 L347.5,390.82 L348,390.85 L348.5,390.88 L349,390.9 L349.5,390.92 L350,390.93 L350.5,390.94 L351,390.95 L351.5,390.96 L352,390.97 L352.5,390.98 L353,390.98 L353.5,390.98 L354,390.99 L354.5,390.99 L355,390.99 L355.5,390.99 L356,390.99 L356.5,391 L357,391 L357.5,391 L358,391 L358.5,391 L359,391 L359.5,391 L360,391 L360.5,391 L361,391 L361.5,391 L362,391 L362.5,391 L363,391 L363.5,391 L364,391 L364.5,391 L365,391 L365.5,391 L366,391 L366.5,391 L367,391 L367.5,391 L368,391 L368.5,391 L369,391 L369.5,391 L370,391 L370.5,391 L371,391 L371.5,391 L372,391 L372.5,391 L373,391 L373.5,391 L374,391 L374.5,391 L375,391 L375.5,391 L376,391 L376.5,391 L377,391 L377.5,391 L378,391 L378.5,391 L379,391 L379.5,391 L380,391 L380.5,391 L381,391 L381.5,391 L382,391 L382.5,391 L383,391 L383.5,391 L384,391 L384.5,391 L385,391 L385.5,391" fill="none" stroke="#1fb57a" stroke-width="1.2"/>
<path d="M225.5,390.97 L226,390.97 L226.5,390.96 L227,390.96 L227.5,390.96 L228,390.96 L228.5,390.96 L229,390.96 L229.5,390.96 L230,390.96 L230.5,390.96 L231,390.96 L231.5,390.96 L232,390.96 L232.5,390.96 L233,390.96 L233.5,390.96 L234,390.96 L234.5,390.96 L235,390.96 L235.5,390.96 L236,390.96 L236.5,390.96 L237,390.96 L237.5,390.96 L238,390.96 L238.5,390.96 L239,390.96 L239.5,390.95 L240,390.95 L240.5,390.95 L241,390.95 L241.5,390.95 L242,390.95 L242.5,390.95 L243,390.95 L243.5,390.95 L244,390.95 L244.5,390.95 L245,390.95 L245.5,390.95 L246,390.95 L246.5,390.95 L247,390.95 L247.5,390.95 L248,390.95 L248.5,390.94 L249,390.94 L249.5,390.94 L250,390.94 L250.5,390.94 L251,390.94 L251.5,390.94 L252,390.94 L252.5,390.94 L253,390.94 L253.5,390.94 L254,390.94 L254.5,390.94 L255,390.94 L255.5,390.93 L256,390.93 L256.5,390.93 L257,390.93 L257.5,390.93 L258,390.93 L258.5,390.93 L259,390.93 L259.5,390.93 L260,390.93 L260.5,390.93 L261,390.92 L261.5,390.92 L262,390.92 L262.5,390.92 L263,390.92 L263.5,390.92 L264,390.92 L264.5,390.92 L265,390.92 L265.5,390.91 L266,390.91 L266.5,390.91 L267,390.91 L267.5,390.91 L268,390.91 L268.5,390.91 L269,390.91 L269.5,390.9 L270,390.9 L270.5,390.9 L271,390.9 L271.5,390.9 L272,390.9 L272.5,390.9 L273,390.89 L273.5,390.89 L274,390.89 L274.5,390.89 L275,390.89 L275.5,390.88 L276,390.88 L276.5,390.88 L277,390.88 L277.5,390.88 L278,390.87 L278.5,390.87 L279,390.87 L279.5,390.87 L280,390.87 L280.5,390.86 L281,390.86 L281.5,390.86 L282,390.86 L282.5,390.85 L283,390.85 L283.5,390.85 L284,390.84 L284.5,390.84 L285,390.84 L285.5,390.83 L286,390.83 L286.5,390.83 L287,390.82 L287.5,390.82 L288,390.82 L288.5,390.81 L289,390.81 L289.5,390.81 L290,390.8 L290.5,390.8 L291,390.79 L291.5,390.79 L292,390.78 L292.5,390.78 L293,390.77 L293.5,390.77 L294,390.76 L294.5,390.76 L295,390.75 L295.5,390.74 L296,390.74 L296.5,390.73 L297,390.72 L297.5,390.72 L298,390.71 L298.5,390.7 L299,390.69 L299.5,390.69 L300,390.68 L300.5,390.67 L301,390.66 L301.5,390.65 L302,390.64 L302.5,390.63 L303,390.62 L303.5,390.6 L304,390.59 L304.5,390.58 L305,390.56 L305.5,390.55 L306,390.53 L306.5,390.52 L307,390.5 L307.5,390.48 L308,390.45 L308.5,390.43 L309,390.4 L309.5,390.37 L310,390.33 L310.5,390.29 L311,390.23 L311.5,390.17 L312,390.1 L312.5,390.02 L313,389.92 L313.5,389.79 L314,389.65 L314.5,389.47 L315,389.26 L315.5,389.01 L316,388.71 L316.5,388.35 L317,387.93 L317.5,387.43 L318,386.84 L318.5,386.15 L319,385.35 L319.5,384.42 L320,383.35 L320.5,382.12 L321,380.72 L321.5,379.14 L322,377.37 L322.5,375.38 L323,373.17 L323.5,370.73 L324,368.06 L324.5,365.16 L325,362.02 L325.5,358.65 L326,355.06 L326.5,351.26 L327,347.28 L327.5,343.14 L328,338.87 L328.5,334.51 L329,330.09 L329.5,325.66 L330,321.27 L330.5,316.96 L331,312.81 L331.5,308.85 L332,305.16 L332.5,301.79 L333,298.8 L333.5,296.26 L334,294.22 L334.5,292.72 L335,291.81 L335.5,291.5 L336,291.81 L336.5,292.72 L337,294.22 L337.5,296.26 L338,298.8 L338.5,301.79 L339,305.16 L339.5,308.85 L340,312.81 L340.5,316.96 L341,321.27 L341.5,325.66 L342,330.09 L342.5,334.51 L343,338.87 L343.5,343.14 L344,347.28 L344.5,351.26 L345,355.06 L345.5,358.65 L346,362.02 L346.5,365.16 L347,368.06 L347.5,370.73 L348,373.17 L348.5,375.38 L349,377.37 L349.5,379.14 L350,380.72 L350.5,382.12 L351,383.35 L351.5,384.42 L352,385.35 L352.5,386.15 L353,386.84 L353.5,387.43 L354,387.93 L354.5,388.35 L355,388.71 L355.5,389.01 L356,389.26 L356.5,389.47 L357,389.65 L357.5,389.79 L358,389.92 L358.5,390.02 L359,390.1 L359.5,390.17 L360,390.23 L360.5,390.29 L361,390.33 L361.5,390.37 L362,390.4 L362.5,390.43 L363,390.45 L363.5,390.48 L364,390.5 L364.5,390.52 L365,390.53 L365.5,390.55 L366,390.56 L366.5,390.58 L367,390.59 L367.5,390.6 L368,390.62 L368.5,390.63 L369,390.64 L369.5,390.65 L370,390.66 L370.5,390.67 L371,390.68 L371.5,390.69 L372,390.69 L372.5,390.7 L373,390.71 L373.5,390.72 L374,390.72 L374.5,390.73 L375,390.74 L375.5,390.74 L376,390.75 L376.5,390.76 L377,390.76 L377.5,390.77 L378,390.77 L378.5,390.78 L379,390.78 L379.5,390.79 L380,390.79 L380.5,390.8 L381,390.8 L381.5,390.81 L382,390.81 L382.5,390.81 L383,390.82 L383.5,390.82 L384,390.82 L384.5,390.83 L385,390.83 L385.5,390.83" fill="none" stroke="#2b86f0" stroke-width="1.2"/>
<path d="M225.5,391.65 L226.8,391.91 L228.1,392.78 L229.4,391.68 L230.7,391.78 L232,391.97 L233.3,391 L234.6,391.79 L235.9,392.07 L237.2,392.46 L238.5,390.78 L239.8,391.28 L241.1,390.77 L242.4,392.49 L243.7,392.21 L245,390.65 L246.3,392.9 L247.6,392.86 L248.9,392.11 L250.2,392.02 L251.5,390.92 L252.8,390.57 L254.1,391.8 L255.4,390.67 L256.7,390.98 L258,391.1 L259.3,390.58 L260.6,391.61 L261.9,391.54 L263.2,392.49 L264.5,391.68 L265.8,391.93 L267.1,391.53 L268.4,391.84 L269.7,391.24 L271,390.67 L272.3,392.2 L273.6,391.94 L274.9,391.24 L276.2,390.5 L277.5,389.02 L278.8,388.15 L280.1,387.47 L281.4,385.95 L282.7,386.43 L284,384.16 L285.3,383.6 L286.6,380.63 L287.9,379.91 L289.2,377.32 L290.5,372.75 L291.8,370.54 L293.1,369.36 L294.4,365.34 L295.7,363.56 L297,359.17 L298.3,355.48 L299.6,354.04 L300.9,351.01 L302.2,347.43 L303.5,344.85 L304.9,339.46 L306.3,341.62 L307.7,336.93 L309.1,339.79 L310.5,335.78 L311.9,339.27 L313.3,335.83 L314.7,339.79 L316.1,336.67 L317.5,340.72 L318.9,337.31 L320.3,340.58 L321.7,335.79 L323.1,336.99 L324.5,329.49 L325.9,327.57 L327.3,318.41 L328.6,311.29 L329.9,304.65 L331.2,296.33 L332.5,288.23 L333.8,284.24 L335.1,282.78 L336.4,285.31 L337.7,293.31 L339,300.96 L340.3,312.94 L341.6,324.65 L342.9,336.03 L344.2,348.6 L345.5,357.19 L346.8,366.9 L348.1,372.46 L349.4,378.46 L350.7,381.84 L352,384.73 L353.3,388.3 L354.6,389.13 L355.9,388.73 L357.2,390.62 L358.5,389.32 L359.8,389.95 L361.1,391.19 L362.4,390.76 L363.7,389.53 L365,391.71 L366.3,389.89 L367.6,390.03 L368.9,391.29 L370.2,390.25 L371.5,390.2 L372.8,389.68 L374.1,389.74 L375.4,390.94 L376.7,390.14 L378,391.02 L379.3,390.48 L380.6,390.69 L381.9,391.91 L383.2,390.78 L384.5,391.01" fill="none" stroke="#e3a234" stroke-width="1.3" stroke-dasharray="3,1.5"/>
<text x="272.2" y="337.5" font-family='"Liberation Serif", serif' font-size="14" font-weight="normal" text-anchor="start" fill="#111" >531</text>
<text x="272.2" y="354.3" font-family='"Liberation Serif", serif' font-size="14" font-weight="normal" text-anchor="start" fill="#111" >.9</text>
<text x="357" y="295.8" font-family='"Liberation Serif", serif' font-size="14" font-weight="normal" text-anchor="start" fill="#111" >529.8</text>
<text x="358" y="362.8" font-family='"Liberation Serif", serif' font-size="14" font-weight="normal" text-anchor="start" fill="#111" >530.8</text>
<line x1="283" y1="339.2" x2="296.68" y2="343.31" stroke="#111" stroke-width="1.1"/>
<polygon points="305.3,345.9 294.43,347.33 297.02,338.71" fill="#000"/>
<line x1="351" y1="356" x2="329.58" y2="366.53" stroke="#111" stroke-width="1.1"/>
<polygon points="321.5,370.5 328.49,362.05 332.46,370.13" fill="#000"/>
<line x1="349.7" y1="287.6" x2="344.35" y2="288.89" stroke="#111" stroke-width="1.1"/>
<polygon points="335.6,291 344.27,284.28 346.38,293.03" fill="#000"/>
<line x1="415.8" y1="269.5" x2="415.8" y2="401.9" stroke="#000" stroke-width="1.8"/>
<line x1="414.9" y1="401" x2="579.5" y2="401" stroke="#000" stroke-width="1.8"/>
<line x1="415.7" y1="401" x2="415.7" y2="404" stroke="#000" stroke-width="1.2"/>
<line x1="456.4" y1="401" x2="456.4" y2="404" stroke="#000" stroke-width="1.2"/>
<line x1="497.1" y1="401" x2="497.1" y2="404" stroke="#000" stroke-width="1.2"/>
<line x1="537.8" y1="401" x2="537.8" y2="404" stroke="#000" stroke-width="1.2"/>
<line x1="578.5" y1="401" x2="578.5" y2="404" stroke="#000" stroke-width="1.2"/>
<line x1="436.05" y1="401" x2="436.05" y2="402.5" stroke="#000" stroke-width="1.2"/>
<line x1="476.75" y1="401" x2="476.75" y2="402.5" stroke="#000" stroke-width="1.2"/>
<line x1="517.45" y1="401" x2="517.45" y2="402.5" stroke="#000" stroke-width="1.2"/>
<line x1="558.15" y1="401" x2="558.15" y2="402.5" stroke="#000" stroke-width="1.2"/>
<text x="415.7" y="419" font-family='"Liberation Serif", serif' font-size="14" font-weight="normal" text-anchor="middle" fill="#111" >106</text>
<text x="456.4" y="419" font-family='"Liberation Serif", serif' font-size="14" font-weight="normal" text-anchor="middle" fill="#111" >104</text>
<text x="497.1" y="419" font-family='"Liberation Serif", serif' font-size="14" font-weight="normal" text-anchor="middle" fill="#111" >102</text>
<text x="537.8" y="419" font-family='"Liberation Serif", serif' font-size="14" font-weight="normal" text-anchor="middle" fill="#111" >100</text>
<text x="578.5" y="419" font-family='"Liberation Serif", serif' font-size="14" font-weight="normal" text-anchor="middle" fill="#111" >98</text>
<text x="498" y="441.8" font-family='"Liberation Serif", serif' font-size="20" font-weight="normal" text-anchor="middle" fill="#111" >Binding energy (eV)</text>
<text transform="translate(410.5,326) rotate(-90)" font-family='"Liberation Serif", serif' font-size="20" text-anchor="middle" fill="#111">Intensity</text>
<text x="402.8" y="281.7" font-family='"Liberation Serif", serif' font-size="23.5" font-weight="bold" text-anchor="start" fill="#111" >e</text>
<text x="429" y="294.6" font-family='"Liberation Serif", serif' font-size="21" font-weight="normal" text-anchor="start" fill="#111" >Si 2p</text>
<path d="M416.5,379.28 L418,384.32 L419.5,383.8 L421,382.3 L422.5,379.77 L424,385.31 L425.5,385.46 L427,382.62 L428.5,382.55 L430,379.97 L431.5,377.73 L433,381.26 L434.5,383.32 L436,378.36 L437.5,385.32 L439,379.93 L440.5,379.93 L442,378.1 L443.5,387.27 L445,384.78 L446.5,386.09 L448,383.59 L449.5,377.99 L451,380.79 L452.5,382.35 L454,378.61 L455.5,386.52 L457,380.72 L458.5,378.39 L460,384.34 L461.5,377.1 L463,383.99 L464.5,378.3 L466,377.74 L467.5,373.78 L469,372.71 L470.5,369.62 L472,365.11 L473.5,364.8 L475,356.51 L476.5,353.46 L478,344.26 L479.5,341.29 L481,333.86 L482.5,326.03 L484,319.05 L485.5,311.46 L487,306.07 L488.5,297.65 L490,294.98 L491.5,293.43 L493,288.27 L494.5,291.26 L496,291.96 L497.5,291.98 L499,295.67 L500.5,301.41 L502,307.6 L503.5,318.11 L505,323.14 L506.5,329.69 L508,338.27 L509.5,349.25 L511,357.8 L512.5,361.66 L514,367.03 L515.5,370.26 L517,374.78 L518.5,373.57 L520,379.3 L521.5,380.24 L523,381.88 L524.5,378.31 L526,378.65 L527.5,380.64 L529,386.37 L530.5,380.9 L532,383.36 L533.5,380.61 L535,378.67 L536.5,378.32 L538,385.51 L539.5,385.16 L541,381.3 L542.5,384.26 L544,384.19 L545.5,386.33 L547,386.9 L548.5,381.61 L550,387.2 L551.5,386.93 L553,383.37 L554.5,386.18 L556,382.41 L557.5,381.31 L559,380.07 L560.5,386.11 L562,379.26 L563.5,378.37 L565,385.43 L566.5,385.13 L568,382.34 L569.5,385.74 L571,378.2 L572.5,380.18 L574,380.48 L575.5,381.73 L577,379.34 L578.5,378.37" fill="none" stroke="#5a5a5a" stroke-width="1.3"/>
<path d="M416.5,384 L417,384 L417.5,384 L418,384 L418.5,384 L419,384 L419.5,384 L420,384 L420.5,384 L421,384 L421.5,384 L422,384 L422.5,384 L423,384 L423.5,384 L424,384 L424.5,384 L425,384 L425.5,384 L426,384 L426.5,384 L427,384 L427.5,384 L428,384 L428.5,384 L429,384 L429.5,384 L430,384 L430.5,384 L431,384 L431.5,384 L432,384 L432.5,384 L433,384 L433.5,384 L434,384 L434.5,384 L435,384 L435.5,384 L436,384 L436.5,384 L437,384 L437.5,384 L438,384 L438.5,384 L439,384 L439.5,384 L440,384 L440.5,384 L441,384 L441.5,384 L442,384 L442.5,384 L443,384 L443.5,384 L444,384 L444.5,383.99 L445,383.99 L445.5,383.99 L446,383.99 L446.5,383.99 L447,383.98 L447.5,383.98 L448,383.98 L448.5,383.97 L449,383.97 L449.5,383.96 L450,383.95 L450.5,383.94 L451,383.93 L451.5,383.91 L452,383.9 L452.5,383.88 L453,383.86 L453.5,383.83 L454,383.8 L454.5,383.76 L455,383.72 L455.5,383.68 L456,383.62 L456.5,383.56 L457,383.49 L457.5,383.41 L458,383.31 L458.5,383.21 L459,383.08 L459.5,382.95 L460,382.79 L460.5,382.62 L461,382.42 L461.5,382.2 L462,381.96 L462.5,381.68 L463,381.38 L463.5,381.04 L464,380.67 L464.5,380.25 L465,379.8 L465.5,379.3 L466,378.75 L466.5,378.16 L467,377.51 L467.5,376.8 L468,376.04 L468.5,375.21 L469,374.32 L469.5,373.37 L470,372.35 L470.5,371.25 L471,370.09 L471.5,368.86 L472,367.55 L472.5,366.17 L473,364.72 L473.5,363.2 L474,361.61 L474.5,359.95 L475,358.23 L475.5,356.45 L476,354.61 L476.5,352.71 L477,350.78 L477.5,348.8 L478,346.79 L478.5,344.75 L479,342.7 L479.5,340.63 L480,338.57 L480.5,336.52 L481,334.48 L481.5,332.48 L482,330.51 L482.5,328.6 L483,326.75 L483.5,324.97 L484,323.27 L484.5,321.67 L485,320.16 L485.5,318.77 L486,317.5 L486.5,316.36 L487,315.36 L487.5,314.5 L488,313.79 L488.5,313.23 L489,312.82 L489.5,312.58 L490,312.5 L490.5,312.58 L491,312.82 L491.5,313.23 L492,313.79 L492.5,314.5 L493,315.36 L493.5,316.36 L494,317.5 L494.5,318.77 L495,320.16 L495.5,321.67 L496,323.27 L496.5,324.97 L497,326.75 L497.5,328.6 L498,330.51 L498.5,332.48 L499,334.48 L499.5,336.52 L500,338.57 L500.5,340.63 L501,342.7 L501.5,344.75 L502,346.79 L502.5,348.8 L503,350.78 L503.5,352.71 L504,354.61 L504.5,356.45 L505,358.23 L505.5,359.95 L506,361.61 L506.5,363.2 L507,364.72 L507.5,366.17 L508,367.55 L508.5,368.86 L509,370.09 L509.5,371.25 L510,372.35 L510.5,373.37 L511,374.32 L511.5,375.21 L512,376.04 L512.5,376.8 L513,377.51 L513.5,378.16 L514,378.75 L514.5,379.3 L515,379.8 L515.5,380.25 L516,380.67 L516.5,381.04 L517,381.38 L517.5,381.68 L518,381.96 L518.5,382.2 L519,382.42 L519.5,382.62 L520,382.79 L520.5,382.95 L521,383.08 L521.5,383.21 L522,383.31 L522.5,383.41 L523,383.49 L523.5,383.56 L524,383.62 L524.5,383.68 L525,383.72 L525.5,383.76 L526,383.8 L526.5,383.83 L527,383.86 L527.5,383.88 L528,383.9 L528.5,383.91 L529,383.93 L529.5,383.94 L530,383.95 L530.5,383.96 L531,383.97 L531.5,383.97 L532,383.98 L532.5,383.98 L533,383.98 L533.5,383.99 L534,383.99 L534.5,383.99 L535,383.99 L535.5,383.99 L536,384 L536.5,384 L537,384 L537.5,384 L538,384 L538.5,384 L539,384 L539.5,384 L540,384 L540.5,384 L541,384 L541.5,384 L542,384 L542.5,384 L543,384 L543.5,384 L544,384 L544.5,384 L545,384 L545.5,384 L546,384 L546.5,384 L547,384 L547.5,384 L548,384 L548.5,384 L549,384 L549.5,384 L550,384 L550.5,384 L551,384 L551.5,384 L552,384 L552.5,384 L553,384 L553.5,384 L554,384 L554.5,384 L555,384 L555.5,384 L556,384 L556.5,384 L557,384 L557.5,384 L558,384 L558.5,384 L559,384 L559.5,384 L560,384 L560.5,384 L561,384 L561.5,384 L562,384 L562.5,384 L563,384 L563.5,384 L564,384 L564.5,384 L565,384 L565.5,384 L566,384 L566.5,384 L567,384 L567.5,384 L568,384 L568.5,384 L569,384 L569.5,384 L570,384 L570.5,384 L571,384 L571.5,384 L572,384 L572.5,384 L573,384 L573.5,384 L574,384 L574.5,384 L575,384 L575.5,384 L576,384 L576.5,384 L577,384 L577.5,384 L578,384 L578.5,384" fill="none" stroke="#f23c3c" stroke-width="1.2"/>
<path d="M416.5,384 L417,384 L417.5,384 L418,384 L418.5,384 L419,384 L419.5,384 L420,384 L420.5,384 L421,384 L421.5,384 L422,384 L422.5,384 L423,384 L423.5,384 L424,384 L424.5,384 L425,384 L425.5,384 L426,384 L426.5,384 L427,384 L427.5,384 L428,384 L428.5,384 L429,384 L429.5,384 L430,384 L430.5,384 L431,384 L431.5,384 L432,384 L432.5,384 L433,384 L433.5,384 L434,384 L434.5,384 L435,384 L435.5,384 L436,384 L436.5,384 L437,384 L437.5,384 L438,384 L438.5,384 L439,384 L439.5,384 L440,384 L440.5,384 L441,384 L441.5,384 L442,384 L442.5,384 L443,384 L443.5,384 L444,384 L444.5,384 L445,384 L445.5,384 L446,384 L446.5,384 L447,384 L447.5,384 L448,384 L448.5,384 L449,384 L449.5,384 L450,384 L450.5,384 L451,384 L451.5,384 L452,384 L452.5,384 L453,384 L453.5,384 L454,384 L454.5,384 L455,384 L455.5,384 L456,384 L456.5,384 L457,384 L457.5,384 L458,384 L458.5,384 L459,384 L459.5,384 L460,384 L460.5,384 L461,384 L461.5,384 L462,384 L462.5,384 L463,384 L463.5,384 L464,384 L464.5,384 L465,383.99 L465.5,383.99 L466,383.99 L466.5,383.99 L467,383.99 L467.5,383.98 L468,383.98 L468.5,383.97 L469,383.96 L469.5,383.96 L470,383.95 L470.5,383.93 L471,383.92 L471.5,383.9 L472,383.87 L472.5,383.85 L473,383.81 L473.5,383.78 L474,383.73 L474.5,383.67 L475,383.61 L475.5,383.54 L476,383.45 L476.5,383.34 L477,383.23 L477.5,383.09 L478,382.93 L478.5,382.75 L479,382.55 L479.5,382.31 L480,382.05 L480.5,381.75 L481,381.41 L481.5,381.04 L482,380.62 L482.5,380.16 L483,379.65 L483.5,379.08 L484,378.47 L484.5,377.8 L485,377.07 L485.5,376.28 L486,375.43 L486.5,374.53 L487,373.56 L487.5,372.53 L488,371.45 L488.5,370.31 L489,369.12 L489.5,367.88 L490,366.6 L490.5,365.28 L491,363.94 L491.5,362.57 L492,361.18 L492.5,359.79 L493,358.4 L493.5,357.03 L494,355.68 L494.5,354.37 L495,353.1 L495.5,351.89 L496,350.75 L496.5,349.68 L497,348.71 L497.5,347.83 L498,347.06 L498.5,346.4 L499,345.86 L499.5,345.45 L500,345.17 L500.5,345.02 L501,345.01 L501.5,345.13 L502,345.39 L502.5,345.77 L503,346.28 L503.5,346.92 L504,347.67 L504.5,348.53 L505,349.48 L505.5,350.53 L506,351.66 L506.5,352.85 L507,354.11 L507.5,355.41 L508,356.76 L508.5,358.13 L509,359.51 L509.5,360.9 L510,362.29 L510.5,363.66 L511,365.02 L511.5,366.34 L512,367.63 L512.5,368.88 L513,370.08 L513.5,371.23 L514,372.32 L514.5,373.36 L515,374.34 L515.5,375.26 L516,376.12 L516.5,376.92 L517,377.66 L517.5,378.34 L518,378.97 L518.5,379.54 L519,380.06 L519.5,380.53 L520,380.96 L520.5,381.34 L521,381.68 L521.5,381.99 L522,382.26 L522.5,382.5 L523,382.71 L523.5,382.9 L524,383.06 L524.5,383.2 L525,383.32 L525.5,383.43 L526,383.52 L526.5,383.6 L527,383.66 L527.5,383.72 L528,383.77 L528.5,383.81 L529,383.84 L529.5,383.87 L530,383.89 L530.5,383.91 L531,383.93 L531.5,383.94 L532,383.95 L532.5,383.96 L533,383.97 L533.5,383.98 L534,383.98 L534.5,383.98 L535,383.99 L535.5,383.99 L536,383.99 L536.5,383.99 L537,384 L537.5,384 L538,384 L538.5,384 L539,384 L539.5,384 L540,384 L540.5,384 L541,384 L541.5,384 L542,384 L542.5,384 L543,384 L543.5,384 L544,384 L544.5,384 L545,384 L545.5,384 L546,384 L546.5,384 L547,384 L547.5,384 L548,384 L548.5,384 L549,384 L549.5,384 L550,384 L550.5,384 L551,384 L551.5,384 L552,384 L552.5,384 L553,384 L553.5,384 L554,384 L554.5,384 L555,384 L555.5,384 L556,384 L556.5,384 L557,384 L557.5,384 L558,384 L558.5,384 L559,384 L559.5,384 L560,384 L560.5,384 L561,384 L561.5,384 L562,384 L562.5,384 L563,384 L563.5,384 L564,384 L564.5,384 L565,384 L565.5,384 L566,384 L566.5,384 L567,384 L567.5,384 L568,384 L568.5,384 L569,384 L569.5,384 L570,384 L570.5,384 L571,384 L571.5,384 L572,384 L572.5,384 L573,384 L573.5,384 L574,384 L574.5,384 L575,384 L575.5,384 L576,384 L576.5,384 L577,384 L577.5,384 L578,384 L578.5,384" fill="none" stroke="#1fb57a" stroke-width="1.2"/>
<path d="M416.5,384 L417,384 L417.5,384 L418,384 L418.5,384 L419,384 L419.5,384 L420,384 L420.5,384 L421,384 L421.5,384 L422,384 L422.5,384 L423,384 L423.5,384 L424,384 L424.5,384 L425,384 L425.5,384 L426,384 L426.5,384 L427,384 L427.5,384 L428,384 L428.5,384 L429,384 L429.5,384 L430,384 L430.5,384 L431,384 L431.5,384 L432,384 L432.5,384 L433,384 L433.5,384 L434,384 L434.5,384 L435,384 L435.5,384 L436,384 L436.5,384 L437,384 L437.5,384 L438,384 L438.5,384 L439,384 L439.5,384 L440,384 L440.5,384 L441,384 L441.5,384 L442,384 L442.5,384 L443,384 L443.5,384 L444,384 L444.5,383.99 L445,383.99 L445.5,383.99 L446,383.99 L446.5,383.99 L447,383.98 L447.5,383.98 L448,383.98 L448.5,383.97 L449,383.97 L449.5,383.96 L450,383.95 L450.5,383.94 L451,383.93 L451.5,383.91 L452,383.9 L452.5,383.88 L453,383.86 L453.5,383.83 L454,383.8 L454.5,383.76 L455,383.72 L455.5,383.68 L456,383.62 L456.5,383.56 L457,383.49 L457.5,383.41 L458,383.31 L458.5,383.21 L459,383.08 L459.5,382.95 L460,382.79 L460.5,382.62 L461,382.42 L461.5,382.2 L462,381.96 L462.5,381.68 L463,381.38 L463.5,381.04 L464,380.66 L464.5,380.25 L465,379.79 L465.5,379.29 L466,378.75 L466.5,378.15 L467,377.49 L467.5,376.78 L468,376.02 L468.5,375.18 L469,374.29 L469.5,373.32 L470,372.29 L470.5,371.19 L471,370.01 L471.5,368.75 L472,367.42 L472.5,366.02 L473,364.54 L473.5,362.97 L474,361.34 L474.5,359.62 L475,357.84 L475.5,355.98 L476,354.05 L476.5,352.06 L477,350 L477.5,347.89 L478,345.72 L478.5,343.5 L479,341.24 L479.5,338.94 L480,336.62 L480.5,334.26 L481,331.89 L481.5,329.52 L482,327.13 L482.5,324.76 L483,322.39 L483.5,320.05 L484,317.74 L484.5,315.46 L485,313.23 L485.5,311.06 L486,308.94 L486.5,306.89 L487,304.92 L487.5,303.03 L488,301.24 L488.5,299.54 L489,297.94 L489.5,296.46 L490,295.1 L490.5,293.87 L491,292.76 L491.5,291.79 L492,290.97 L492.5,290.29 L493,289.76 L493.5,289.39 L494,289.18 L494.5,289.14 L495,289.26 L495.5,289.56 L496,290.02 L496.5,290.65 L497,291.46 L497.5,292.43 L498,293.57 L498.5,294.88 L499,296.35 L499.5,297.97 L500,299.74 L500.5,301.66 L501,303.71 L501.5,305.88 L502,308.17 L502.5,310.57 L503,313.06 L503.5,315.63 L504,318.27 L504.5,320.97 L505,323.71 L505.5,326.48 L506,329.26 L506.5,332.05 L507,334.83 L507.5,337.59 L508,340.31 L508.5,342.98 L509,345.6 L509.5,348.16 L510,350.64 L510.5,353.03 L511,355.34 L511.5,357.55 L512,359.67 L512.5,361.68 L513,363.58 L513.5,365.38 L514,367.08 L514.5,368.66 L515,370.14 L515.5,371.51 L516,372.78 L516.5,373.96 L517,375.04 L517.5,376.02 L518,376.92 L518.5,377.74 L519,378.48 L519.5,379.15 L520,379.75 L520.5,380.29 L521,380.77 L521.5,381.2 L522,381.57 L522.5,381.91 L523,382.2 L523.5,382.46 L524,382.68 L524.5,382.88 L525,383.05 L525.5,383.19 L526,383.32 L526.5,383.43 L527,383.52 L527.5,383.6 L528,383.66 L528.5,383.72 L529,383.77 L529.5,383.81 L530,383.84 L530.5,383.87 L531,383.89 L531.5,383.91 L532,383.93 L532.5,383.94 L533,383.95 L533.5,383.96 L534,383.97 L534.5,383.98 L535,383.98 L535.5,383.98 L536,383.99 L536.5,383.99 L537,383.99 L537.5,383.99 L538,384 L538.5,384 L539,384 L539.5,384 L540,384 L540.5,384 L541,384 L541.5,384 L542,384 L542.5,384 L543,384 L543.5,384 L544,384 L544.5,384 L545,384 L545.5,384 L546,384 L546.5,384 L547,384 L547.5,384 L548,384 L548.5,384 L549,384 L549.5,384 L550,384 L550.5,384 L551,384 L551.5,384 L552,384 L552.5,384 L553,384 L553.5,384 L554,384 L554.5,384 L555,384 L555.5,384 L556,384 L556.5,384 L557,384 L557.5,384 L558,384 L558.5,384 L559,384 L559.5,384 L560,384 L560.5,384 L561,384 L561.5,384 L562,384 L562.5,384 L563,384 L563.5,384 L564,384 L564.5,384 L565,384 L565.5,384 L566,384 L566.5,384 L567,384 L567.5,384 L568,384 L568.5,384 L569,384 L569.5,384 L570,384 L570.5,384 L571,384 L571.5,384 L572,384 L572.5,384 L573,384 L573.5,384 L574,384 L574.5,384 L575,384 L575.5,384 L576,384 L576.5,384 L577,384 L577.5,384 L578,384 L578.5,384" fill="none" stroke="#e3a234" stroke-width="1.2" stroke-dasharray="3,2" opacity="0.9"/>
<text x="438.4" y="318" font-family='"Liberation Serif", serif' font-size="14" font-weight="normal" text-anchor="start" fill="#111" >102.3</text>
<text x="529" y="336.3" font-family='"Liberation Serif", serif' font-size="14" font-weight="normal" text-anchor="start" fill="#111" >101.8</text>
<line x1="469.5" y1="312.5" x2="481.5" y2="312.5" stroke="#111" stroke-width="1.1"/>
<polygon points="490.5,312.5 480.5,317 480.5,308" fill="#000"/>
<line x1="522" y1="330" x2="509.37" y2="338.84" stroke="#111" stroke-width="1.1"/>
<polygon points="502,344 507.61,334.58 512.77,341.95" fill="#000"/>
<line x1="604.4" y1="270" x2="604.4" y2="401.3" stroke="#000" stroke-width="1.8"/>
<line x1="603.5" y1="400.4" x2="766.7" y2="400.4" stroke="#000" stroke-width="1.8"/>
<line x1="604.4" y1="400.4" x2="604.4" y2="403.4" stroke="#000" stroke-width="1.2"/>
<line x1="668.8" y1="400.4" x2="668.8" y2="403.4" stroke="#000" stroke-width="1.2"/>
<line x1="733.2" y1="400.4" x2="733.2" y2="403.4" stroke="#000" stroke-width="1.2"/>
<line x1="636.6" y1="400.4" x2="636.6" y2="401.9" stroke="#000" stroke-width="1.2"/>
<line x1="701" y1="400.4" x2="701" y2="401.9" stroke="#000" stroke-width="1.2"/>
<line x1="765.4" y1="400.4" x2="765.4" y2="401.9" stroke="#000" stroke-width="1.2"/>
<text x="604.4" y="417" font-family='"Liberation Serif", serif' font-size="14" font-weight="normal" text-anchor="middle" fill="#111" >188</text>
<text x="668.8" y="417" font-family='"Liberation Serif", serif' font-size="14" font-weight="normal" text-anchor="middle" fill="#111" >184</text>
<text x="733.2" y="417" font-family='"Liberation Serif", serif' font-size="14" font-weight="normal" text-anchor="middle" fill="#111" >180</text>
<text x="684.2" y="441.4" font-family='"Liberation Serif", serif' font-size="20" font-weight="normal" text-anchor="middle" fill="#111" >Binding energy (eV)</text>
<text transform="translate(598.5,329) rotate(-90)" font-family='"Liberation Serif", serif' font-size="20" text-anchor="middle" fill="#111">Intensity</text>
<text x="588" y="281.5" font-family='"Liberation Serif", serif' font-size="22" font-weight="bold" text-anchor="start" fill="#111" >f</text>
<text x="618.2" y="295.2" font-family='"Liberation Serif", serif' font-size="21" font-weight="normal" text-anchor="start" fill="#111" word-spacing="1.5">Zr 3d</text>
<path d="M605.5,391.88 L606,391.87 L606.5,391.87 L607,391.87 L607.5,391.87 L608,391.87 L608.5,391.87 L609,391.87 L609.5,391.87 L610,391.86 L610.5,391.86 L611,391.86 L611.5,391.86 L612,391.86 L612.5,391.86 L613,391.86 L613.5,391.85 L614,391.85 L614.5,391.85 L615,391.85 L615.5,391.85 L616,391.85 L616.5,391.84 L617,391.84 L617.5,391.84 L618,391.84 L618.5,391.84 L619,391.84 L619.5,391.83 L620,391.83 L620.5,391.83 L621,391.83 L621.5,391.83 L622,391.82 L622.5,391.82 L623,391.82 L623.5,391.82 L624,391.82 L624.5,391.81 L625,391.81 L625.5,391.81 L626,391.8 L626.5,391.8 L627,391.8 L627.5,391.79 L628,391.79 L628.5,391.78 L629,391.77 L629.5,391.77 L630,391.75 L630.5,391.74 L631,391.73 L631.5,391.71 L632,391.68 L632.5,391.66 L633,391.62 L633.5,391.58 L634,391.53 L634.5,391.47 L635,391.4 L635.5,391.31 L636,391.21 L636.5,391.09 L637,390.95 L637.5,390.79 L638,390.59 L638.5,390.37 L639,390.1 L639.5,389.8 L640,389.45 L640.5,389.06 L641,388.61 L641.5,388.1 L642,387.52 L642.5,386.88 L643,386.16 L643.5,385.36 L644,384.47 L644.5,383.5 L645,382.43 L645.5,381.26 L646,379.99 L646.5,378.61 L647,377.12 L647.5,375.53 L648,373.83 L648.5,372.02 L649,370.1 L649.5,368.08 L650,365.95 L650.5,363.74 L651,361.43 L651.5,359.04 L652,356.58 L652.5,354.06 L653,351.49 L653.5,348.88 L654,346.25 L654.5,343.61 L655,340.99 L655.5,338.39 L656,335.85 L656.5,333.36 L657,330.97 L657.5,328.68 L658,326.51 L658.5,324.5 L659,322.64 L659.5,320.97 L660,319.5 L660.5,318.25 L661,317.23 L661.5,316.44 L662,315.91 L662.5,315.64 L663,315.64 L663.5,315.9 L664,316.42 L664.5,317.21 L665,318.25 L665.5,319.54 L666,321.07 L666.5,322.81 L667,324.76 L667.5,326.89 L668,329.18 L668.5,331.62 L669,334.17 L669.5,336.83 L670,339.55 L670.5,342.32 L671,345.12 L671.5,347.92 L672,350.71 L672.5,353.45 L673,356.13 L673.5,358.73 L674,361.24 L674.5,363.64 L675,365.91 L675.5,368.05 L676,370.05 L676.5,371.89 L677,373.57 L677.5,375.09 L678,376.43 L678.5,377.59 L679,378.58 L679.5,379.38 L680,380 L680.5,380.43 L681,380.68 L681.5,380.73 L682,380.59 L682.5,380.25 L683,379.72 L683.5,379 L684,378.07 L684.5,376.95 L685,375.64 L685.5,374.12 L686,372.42 L686.5,370.51 L687,368.42 L687.5,366.14 L688,363.68 L688.5,361.04 L689,358.23 L689.5,355.26 L690,352.13 L690.5,348.87 L691,345.47 L691.5,341.96 L692,338.34 L692.5,334.64 L693,330.88 L693.5,327.06 L694,323.22 L694.5,319.36 L695,315.53 L695.5,311.74 L696,308.01 L696.5,304.38 L697,300.88 L697.5,297.54 L698,294.4 L698.5,291.5 L699,288.88 L699.5,286.58 L700,284.65 L700.5,283.13 L701,282.06 L701.5,281.49 L702,281.43 L702.5,281.9 L703,282.91 L703.5,284.45 L704,286.48 L704.5,288.97 L705,291.89 L705.5,295.17 L706,298.77 L706.5,302.62 L707,306.68 L707.5,310.9 L708,315.23 L708.5,319.62 L709,324.04 L709.5,328.44 L710,332.8 L710.5,337.08 L711,341.26 L711.5,345.31 L712,349.22 L712.5,352.96 L713,356.53 L713.5,359.91 L714,363.09 L714.5,366.07 L715,368.85 L715.5,371.43 L716,373.8 L716.5,375.98 L717,377.98 L717.5,379.79 L718,381.43 L718.5,382.91 L719,384.23 L719.5,385.41 L720,386.46 L720.5,387.4 L721,388.22 L721.5,388.94 L722,389.58 L722.5,390.14 L723,390.62 L723.5,391.04 L724,391.41 L724.5,391.73 L725,392.01 L725.5,392.25 L726,392.46 L726.5,392.64 L727,392.8 L727.5,392.94 L728,393.06 L728.5,393.17 L729,393.26 L729.5,393.35 L730,393.42 L730.5,393.49 L731,393.55 L731.5,393.61 L732,393.66 L732.5,393.71 L733,393.76 L733.5,393.8 L734,393.84 L734.5,393.87 L735,393.91 L735.5,393.94 L736,393.97 L736.5,394 L737,394.03 L737.5,394.06 L738,394.08 L738.5,394.11 L739,394.13 L739.5,394.15 L740,394.18 L740.5,394.2 L741,394.22 L741.5,394.24 L742,394.25 L742.5,394.27 L743,394.29 L743.5,394.31 L744,394.32 L744.5,394.34 L745,394.35 L745.5,394.37 L746,394.38 L746.5,394.4 L747,394.41 L747.5,394.42 L748,394.44 L748.5,394.45 L749,394.46 L749.5,394.47 L750,394.48 L750.5,394.49 L751,394.5 L751.5,394.51 L752,394.52 L752.5,394.53 L753,394.54 L753.5,394.55 L754,394.56 L754.5,394.57 L755,394.57 L755.5,394.58 L756,394.59 L756.5,394.6 L757,394.6 L757.5,394.61 L758,394.62 L758.5,394.63 L759,394.63 L759.5,394.64 L760,394.64 L760.5,394.65 L761,394.66 L761.5,394.66 L762,394.67 L762.5,394.67 L763,394.68 L763.5,394.68 L764,394.69 L764.5,394.69 L765,394.7 L765.5,394.7 L766,394.71" fill="none" stroke="#5a5a5a" stroke-width="1.2"/>
<path d="M605.5,392 L606,392 L606.5,392 L607,392 L607.5,392 L608,392 L608.5,392 L609,392 L609.5,392 L610,392 L610.5,392 L611,392 L611.5,392 L612,392 L612.5,392 L613,392 L613.5,392 L614,392 L614.5,392 L615,392 L615.5,392 L616,392 L616.5,392 L617,392 L617.5,392 L618,392 L618.5,392.01 L619,392.01 L619.5,392.01 L620,392.01 L620.5,392.01 L621,392.01 L621.5,392.01 L622,392.01 L622.5,392.01 L623,392.01 L623.5,392.01 L624,392.01 L624.5,392.01 L625,392.01 L625.5,392.01 L626,392.01 L626.5,392.01 L627,392.01 L627.5,392.01 L628,392.01 L628.5,392.01 L629,392.01 L629.5,392.02 L630,392.02 L630.5,392.02 L631,392.02 L631.5,392.02 L632,392.02 L632.5,392.02 L633,392.02 L633.5,392.02 L634,392.02 L634.5,392.03 L635,392.03 L635.5,392.03 L636,392.03 L636.5,392.03 L637,392.03 L637.5,392.03 L638,392.04 L638.5,392.04 L639,392.04 L639.5,392.04 L640,392.04 L640.5,392.05 L641,392.05 L641.5,392.05 L642,392.05 L642.5,392.06 L643,392.06 L643.5,392.06 L644,392.07 L644.5,392.07 L645,392.07 L645.5,392.08 L646,392.08 L646.5,392.08 L647,392.09 L647.5,392.09 L648,392.1 L648.5,392.1 L649,392.11 L649.5,392.11 L650,392.12 L650.5,392.12 L651,392.13 L651.5,392.14 L652,392.14 L652.5,392.15 L653,392.16 L653.5,392.16 L654,392.17 L654.5,392.18 L655,392.19 L655.5,392.2 L656,392.21 L656.5,392.22 L657,392.23 L657.5,392.24 L658,392.25 L658.5,392.26 L659,392.27 L659.5,392.29 L660,392.3 L660.5,392.31 L661,392.33 L661.5,392.34 L662,392.36 L662.5,392.37 L663,392.39 L663.5,392.41 L664,392.42 L664.5,392.44 L665,392.46 L665.5,392.48 L666,392.5 L666.5,392.52 L667,392.54 L667.5,392.56 L668,392.58 L668.5,392.61 L669,392.63 L669.5,392.65 L670,392.67 L670.5,392.69 L671,392.7 L671.5,392.72 L672,392.73 L672.5,392.73 L673,392.74 L673.5,392.73 L674,392.72 L674.5,392.7 L675,392.67 L675.5,392.62 L676,392.56 L676.5,392.48 L677,392.39 L677.5,392.26 L678,392.12 L678.5,391.94 L679,391.73 L679.5,391.48 L680,391.2 L680.5,390.88 L681,390.51 L681.5,390.09 L682,389.63 L682.5,389.13 L683,388.57 L683.5,387.97 L684,387.32 L684.5,386.64 L685,385.91 L685.5,385.16 L686,384.38 L686.5,383.59 L687,382.78 L687.5,381.98 L688,381.19 L688.5,380.42 L689,379.69 L689.5,379 L690,378.37 L690.5,377.81 L691,377.32 L691.5,376.92 L692,376.61 L692.5,376.39 L693,376.28 L693.5,376.28 L694,376.38 L694.5,376.59 L695,376.89 L695.5,377.3 L696,377.79 L696.5,378.36 L697,379.01 L697.5,379.72 L698,380.48 L698.5,381.29 L699,382.12 L699.5,382.97 L700,383.82 L700.5,384.68 L701,385.52 L701.5,386.35 L702,387.14 L702.5,387.9 L703,388.62 L703.5,389.3 L704,389.94 L704.5,390.53 L705,391.06 L705.5,391.56 L706,392 L706.5,392.4 L707,392.76 L707.5,393.07 L708,393.35 L708.5,393.59 L709,393.8 L709.5,393.98 L710,394.14 L710.5,394.27 L711,394.38 L711.5,394.48 L712,394.56 L712.5,394.62 L713,394.68 L713.5,394.73 L714,394.76 L714.5,394.8 L715,394.82 L715.5,394.84 L716,394.86 L716.5,394.88 L717,394.89 L717.5,394.9 L718,394.91 L718.5,394.91 L719,394.92 L719.5,394.93 L720,394.93 L720.5,394.93 L721,394.94 L721.5,394.94 L722,394.94 L722.5,394.95 L723,394.95 L723.5,394.95 L724,394.96 L724.5,394.96 L725,394.96 L725.5,394.96 L726,394.96 L726.5,394.97 L727,394.97 L727.5,394.97 L728,394.97 L728.5,394.97 L729,394.97 L729.5,394.97 L730,394.98 L730.5,394.98 L731,394.98 L731.5,394.98 L732,394.98 L732.5,394.98 L733,394.98 L733.5,394.98 L734,394.98 L734.5,394.98 L735,394.99 L735.5,394.99 L736,394.99 L736.5,394.99 L737,394.99 L737.5,394.99 L738,394.99 L738.5,394.99 L739,394.99 L739.5,394.99 L740,394.99 L740.5,394.99 L741,394.99 L741.5,394.99 L742,394.99 L742.5,394.99 L743,394.99 L743.5,394.99 L744,394.99 L744.5,394.99 L745,394.99 L745.5,394.99 L746,395 L746.5,395 L747,395 L747.5,395 L748,395 L748.5,395 L749,395 L749.5,395 L750,395 L750.5,395 L751,395 L751.5,395 L752,395 L752.5,395 L753,395 L753.5,395 L754,395 L754.5,395 L755,395 L755.5,395 L756,395 L756.5,395 L757,395 L757.5,395 L758,395 L758.5,395 L759,395 L759.5,395 L760,395 L760.5,395 L761,395 L761.5,395 L762,395 L762.5,395 L763,395 L763.5,395 L764,395 L764.5,395 L765,395 L765.5,395 L766,395" fill="none" stroke="#1fb57a" stroke-width="1.2"/>
<path d="M605.5,392 L606,392 L606.5,392 L607,392 L607.5,392 L608,392 L608.5,392 L609,392 L609.5,392 L610,392 L610.5,392 L611,392 L611.5,392 L612,392 L612.5,392 L613,392 L613.5,392 L614,392 L614.5,392 L615,392 L615.5,392 L616,392 L616.5,392 L617,392 L617.5,392 L618,392 L618.5,392.01 L619,392.01 L619.5,392.01 L620,392.01 L620.5,392.01 L621,392.01 L621.5,392.01 L622,392.01 L622.5,392.01 L623,392.01 L623.5,392.01 L624,392.01 L624.5,392.01 L625,392.01 L625.5,392.01 L626,392.01 L626.5,392.01 L627,392.01 L627.5,392 L628,392 L628.5,392 L629,392 L629.5,391.99 L630,391.99 L630.5,391.98 L631,391.97 L631.5,391.96 L632,391.94 L632.5,391.93 L633,391.9 L633.5,391.88 L634,391.85 L634.5,391.81 L635,391.76 L635.5,391.7 L636,391.64 L636.5,391.56 L637,391.47 L637.5,391.37 L638,391.25 L638.5,391.11 L639,390.95 L639.5,390.77 L640,390.58 L640.5,390.35 L641,390.11 L641.5,389.83 L642,389.54 L642.5,389.21 L643,388.86 L643.5,388.49 L644,388.09 L644.5,387.67 L645,387.22 L645.5,386.76 L646,386.29 L646.5,385.8 L647,385.31 L647.5,384.82 L648,384.33 L648.5,383.85 L649,383.38 L649.5,382.93 L650,382.51 L650.5,382.12 L651,381.77 L651.5,381.46 L652,381.2 L652.5,380.98 L653,380.82 L653.5,380.72 L654,380.68 L654.5,380.69 L655,380.76 L655.5,380.89 L656,381.08 L656.5,381.32 L657,381.61 L657.5,381.95 L658,382.33 L658.5,382.74 L659,383.18 L659.5,383.65 L660,384.14 L660.5,384.64 L661,385.15 L661.5,385.67 L662,386.18 L662.5,386.68 L663,387.17 L663.5,387.65 L664,388.11 L664.5,388.55 L665,388.97 L665.5,389.36 L666,389.73 L666.5,390.07 L667,390.39 L667.5,390.68 L668,390.95 L668.5,391.19 L669,391.41 L669.5,391.61 L670,391.79 L670.5,391.96 L671,392.1 L671.5,392.24 L672,392.35 L672.5,392.46 L673,392.55 L673.5,392.64 L674,392.72 L674.5,392.79 L675,392.86 L675.5,392.92 L676,392.97 L676.5,393.03 L677,393.08 L677.5,393.12 L678,393.17 L678.5,393.21 L679,393.26 L679.5,393.3 L680,393.34 L680.5,393.38 L681,393.42 L681.5,393.46 L682,393.5 L682.5,393.53 L683,393.57 L683.5,393.61 L684,393.65 L684.5,393.69 L685,393.72 L685.5,393.76 L686,393.8 L686.5,393.83 L687,393.87 L687.5,393.9 L688,393.94 L688.5,393.97 L689,394 L689.5,394.04 L690,394.07 L690.5,394.1 L691,394.13 L691.5,394.16 L692,394.19 L692.5,394.22 L693,394.25 L693.5,394.28 L694,394.31 L694.5,394.33 L695,394.36 L695.5,394.38 L696,394.41 L696.5,394.43 L697,394.45 L697.5,394.47 L698,394.5 L698.5,394.52 L699,394.54 L699.5,394.56 L700,394.57 L700.5,394.59 L701,394.61 L701.5,394.63 L702,394.64 L702.5,394.66 L703,394.67 L703.5,394.69 L704,394.7 L704.5,394.71 L705,394.73 L705.5,394.74 L706,394.75 L706.5,394.76 L707,394.77 L707.5,394.78 L708,394.79 L708.5,394.8 L709,394.81 L709.5,394.82 L710,394.83 L710.5,394.84 L711,394.84 L711.5,394.85 L712,394.86 L712.5,394.86 L713,394.87 L713.5,394.88 L714,394.88 L714.5,394.89 L715,394.89 L715.5,394.9 L716,394.9 L716.5,394.91 L717,394.91 L717.5,394.92 L718,394.92 L718.5,394.92 L719,394.93 L719.5,394.93 L720,394.93 L720.5,394.94 L721,394.94 L721.5,394.94 L722,394.95 L722.5,394.95 L723,394.95 L723.5,394.95 L724,394.96 L724.5,394.96 L725,394.96 L725.5,394.96 L726,394.96 L726.5,394.97 L727,394.97 L727.5,394.97 L728,394.97 L728.5,394.97 L729,394.97 L729.5,394.97 L730,394.98 L730.5,394.98 L731,394.98 L731.5,394.98 L732,394.98 L732.5,394.98 L733,394.98 L733.5,394.98 L734,394.98 L734.5,394.98 L735,394.99 L735.5,394.99 L736,394.99 L736.5,394.99 L737,394.99 L737.5,394.99 L738,394.99 L738.5,394.99 L739,394.99 L739.5,394.99 L740,394.99 L740.5,394.99 L741,394.99 L741.5,394.99 L742,394.99 L742.5,394.99 L743,394.99 L743.5,394.99 L744,394.99 L744.5,394.99 L745,394.99 L745.5,394.99 L746,395 L746.5,395 L747,395 L747.5,395 L748,395 L748.5,395 L749,395 L749.5,395 L750,395 L750.5,395 L751,395 L751.5,395 L752,395 L752.5,395 L753,395 L753.5,395 L754,395 L754.5,395 L755,395 L755.5,395 L756,395 L756.5,395 L757,395 L757.5,395 L758,395 L758.5,395 L759,395 L759.5,395 L760,395 L760.5,395 L761,395 L761.5,395 L762,395 L762.5,395 L763,395 L763.5,395 L764,395 L764.5,395 L765,395 L765.5,395 L766,395" fill="none" stroke="#c26be8" stroke-width="1.2"/>
<path d="M605.5,392 L606,392 L606.5,392 L607,392 L607.5,392 L608,392 L608.5,392 L609,392 L609.5,392 L610,392 L610.5,392 L611,392 L611.5,392 L612,392 L612.5,392 L613,392 L613.5,392 L614,392 L614.5,392 L615,392 L615.5,392 L616,392 L616.5,392 L617,392 L617.5,392 L618,392 L618.5,392.01 L619,392.01 L619.5,392.01 L620,392.01 L620.5,392.01 L621,392.01 L621.5,392.01 L622,392.01 L622.5,392.01 L623,392.01 L623.5,392.01 L624,392.01 L624.5,392.01 L625,392.01 L625.5,392.01 L626,392.01 L626.5,392.01 L627,392.01 L627.5,392.01 L628,392.01 L628.5,392.01 L629,392.01 L629.5,392.01 L630,392.01 L630.5,392.01 L631,392 L631.5,392 L632,392 L632.5,391.99 L633,391.98 L633.5,391.97 L634,391.96 L634.5,391.95 L635,391.93 L635.5,391.9 L636,391.87 L636.5,391.83 L637,391.79 L637.5,391.73 L638,391.66 L638.5,391.58 L639,391.48 L639.5,391.37 L640,391.23 L640.5,391.06 L641,390.86 L641.5,390.63 L642,390.36 L642.5,390.05 L643,389.69 L643.5,389.27 L644,388.8 L644.5,388.25 L645,387.63 L645.5,386.93 L646,386.14 L646.5,385.26 L647,384.28 L647.5,383.19 L648,381.99 L648.5,380.67 L649,379.24 L649.5,377.67 L650,375.98 L650.5,374.17 L651,372.23 L651.5,370.16 L652,367.98 L652.5,365.69 L653,363.3 L653.5,360.81 L654,358.24 L654.5,355.61 L655,352.93 L655.5,350.22 L656,347.51 L656.5,344.81 L657,342.14 L657.5,339.54 L658,337.02 L658.5,334.62 L659,332.34 L659.5,330.23 L660,328.3 L660.5,326.57 L661,325.07 L661.5,323.81 L662,322.8 L662.5,322.06 L663,321.59 L663.5,321.41 L664,321.52 L664.5,321.9 L665,322.57 L665.5,323.51 L666,324.71 L666.5,326.15 L667,327.83 L667.5,329.72 L668,331.79 L668.5,334.04 L669,336.43 L669.5,338.95 L670,341.56 L670.5,344.24 L671,346.96 L671.5,349.71 L672,352.47 L672.5,355.2 L673,357.89 L673.5,360.52 L674,363.08 L674.5,365.55 L675,367.93 L675.5,370.2 L676,372.35 L676.5,374.38 L677,376.29 L677.5,378.07 L678,379.72 L678.5,381.25 L679,382.66 L679.5,383.95 L680,385.12 L680.5,386.18 L681,387.15 L681.5,388.01 L682,388.79 L682.5,389.48 L683,390.09 L683.5,390.64 L684,391.12 L684.5,391.54 L685,391.91 L685.5,392.24 L686,392.52 L686.5,392.77 L687,392.98 L687.5,393.17 L688,393.33 L688.5,393.48 L689,393.6 L689.5,393.71 L690,393.8 L690.5,393.89 L691,393.96 L691.5,394.02 L692,394.08 L692.5,394.13 L693,394.18 L693.5,394.22 L694,394.26 L694.5,394.3 L695,394.33 L695.5,394.36 L696,394.39 L696.5,394.42 L697,394.44 L697.5,394.47 L698,394.49 L698.5,394.51 L699,394.53 L699.5,394.55 L700,394.57 L700.5,394.59 L701,394.61 L701.5,394.63 L702,394.64 L702.5,394.66 L703,394.67 L703.5,394.69 L704,394.7 L704.5,394.71 L705,394.73 L705.5,394.74 L706,394.75 L706.5,394.76 L707,394.77 L707.5,394.78 L708,394.79 L708.5,394.8 L709,394.81 L709.5,394.82 L710,394.83 L710.5,394.84 L711,394.84 L711.5,394.85 L712,394.86 L712.5,394.86 L713,394.87 L713.5,394.88 L714,394.88 L714.5,394.89 L715,394.89 L715.5,394.9 L716,394.9 L716.5,394.91 L717,394.91 L717.5,394.92 L718,394.92 L718.5,394.92 L719,394.93 L719.5,394.93 L720,394.93 L720.5,394.94 L721,394.94 L721.5,394.94 L722,394.95 L722.5,394.95 L723,394.95 L723.5,394.95 L724,394.96 L724.5,394.96 L725,394.96 L725.5,394.96 L726,394.96 L726.5,394.97 L727,394.97 L727.5,394.97 L728,394.97 L728.5,394.97 L729,394.97 L729.5,394.97 L730,394.98 L730.5,394.98 L731,394.98 L731.5,394.98 L732,394.98 L732.5,394.98 L733,394.98 L733.5,394.98 L734,394.98 L734.5,394.98 L735,394.99 L735.5,394.99 L736,394.99 L736.5,394.99 L737,394.99 L737.5,394.99 L738,394.99 L738.5,394.99 L739,394.99 L739.5,394.99 L740,394.99 L740.5,394.99 L741,394.99 L741.5,394.99 L742,394.99 L742.5,394.99 L743,394.99 L743.5,394.99 L744,394.99 L744.5,394.99 L745,394.99 L745.5,394.99 L746,395 L746.5,395 L747,395 L747.5,395 L748,395 L748.5,395 L749,395 L749.5,395 L750,395 L750.5,395 L751,395 L751.5,395 L752,395 L752.5,395 L753,395 L753.5,395 L754,395 L754.5,395 L755,395 L755.5,395 L756,395 L756.5,395 L757,395 L757.5,395 L758,395 L758.5,395 L759,395 L759.5,395 L760,395 L760.5,395 L761,395 L761.5,395 L762,395 L762.5,395 L763,395 L763.5,395 L764,395 L764.5,395 L765,395 L765.5,395 L766,395" fill="none" stroke="#2b86f0" stroke-width="1.2"/>
<path d="M605.5,391.88 L606,391.87 L606.5,391.87 L607,391.87 L607.5,391.87 L608,391.87 L608.5,391.87 L609,391.87 L609.5,391.87 L610,391.86 L610.5,391.86 L611,391.86 L611.5,391.86 L612,391.86 L612.5,391.86 L613,391.86 L613.5,391.85 L614,391.85 L614.5,391.85 L615,391.85 L615.5,391.85 L616,391.85 L616.5,391.84 L617,391.84 L617.5,391.84 L618,391.84 L618.5,391.84 L619,391.84 L619.5,391.83 L620,391.83 L620.5,391.83 L621,391.83 L621.5,391.83 L622,391.82 L622.5,391.82 L623,391.82 L623.5,391.82 L624,391.82 L624.5,391.82 L625,391.81 L625.5,391.81 L626,391.81 L626.5,391.81 L627,391.81 L627.5,391.8 L628,391.8 L628.5,391.8 L629,391.8 L629.5,391.79 L630,391.79 L630.5,391.79 L631,391.79 L631.5,391.79 L632,391.78 L632.5,391.78 L633,391.78 L633.5,391.78 L634,391.77 L634.5,391.77 L635,391.77 L635.5,391.77 L636,391.76 L636.5,391.76 L637,391.76 L637.5,391.76 L638,391.75 L638.5,391.75 L639,391.75 L639.5,391.75 L640,391.74 L640.5,391.74 L641,391.74 L641.5,391.74 L642,391.73 L642.5,391.73 L643,391.73 L643.5,391.73 L644,391.72 L644.5,391.72 L645,391.72 L645.5,391.72 L646,391.71 L646.5,391.71 L647,391.71 L647.5,391.71 L648,391.7 L648.5,391.7 L649,391.7 L649.5,391.7 L650,391.69 L650.5,391.69 L651,391.69 L651.5,391.69 L652,391.68 L652.5,391.68 L653,391.68 L653.5,391.68 L654,391.68 L654.5,391.68 L655,391.67 L655.5,391.67 L656,391.67 L656.5,391.67 L657,391.67 L657.5,391.67 L658,391.66 L658.5,391.66 L659,391.66 L659.5,391.66 L660,391.66 L660.5,391.66 L661,391.66 L661.5,391.66 L662,391.65 L662.5,391.65 L663,391.65 L663.5,391.65 L664,391.65 L664.5,391.65 L665,391.65 L665.5,391.65 L666,391.64 L666.5,391.64 L667,391.64 L667.5,391.64 L668,391.64 L668.5,391.63 L669,391.63 L669.5,391.62 L670,391.62 L670.5,391.61 L671,391.6 L671.5,391.59 L672,391.58 L672.5,391.57 L673,391.55 L673.5,391.53 L674,391.51 L674.5,391.48 L675,391.44 L675.5,391.4 L676,391.35 L676.5,391.29 L677,391.22 L677.5,391.14 L678,391.03 L678.5,390.91 L679,390.77 L679.5,390.6 L680,390.4 L680.5,390.16 L681,389.88 L681.5,389.55 L682,389.17 L682.5,388.72 L683,388.21 L683.5,387.61 L684,386.93 L684.5,386.15 L685,385.26 L685.5,384.25 L686,383.11 L686.5,381.82 L687,380.39 L687.5,378.79 L688,377.03 L688.5,375.08 L689,372.95 L689.5,370.62 L690,368.1 L690.5,365.38 L691,362.46 L691.5,359.34 L692,356.04 L692.5,352.56 L693,348.91 L693.5,345.11 L694,341.18 L694.5,337.14 L695,333.02 L695.5,328.84 L696,324.64 L696.5,320.46 L697,316.33 L697.5,312.3 L698,308.42 L698.5,304.74 L699,301.3 L699.5,298.17 L700,295.4 L700.5,293.04 L701,291.15 L701.5,289.77 L702,288.93 L702.5,288.66 L703,288.96 L703.5,289.83 L704,291.24 L704.5,293.16 L705,295.55 L705.5,298.35 L706,301.52 L706.5,304.98 L707,308.7 L707.5,312.61 L708,316.67 L708.5,320.83 L709,325.05 L709.5,329.28 L710,333.49 L710.5,337.65 L711,341.72 L711.5,345.69 L712,349.52 L712.5,353.2 L713,356.72 L713.5,360.06 L714,363.21 L714.5,366.16 L715,368.92 L715.5,371.48 L716,373.84 L716.5,376.02 L717,378 L717.5,379.81 L718,381.44 L718.5,382.92 L719,384.24 L719.5,385.42 L720,386.47 L720.5,387.4 L721,388.22 L721.5,388.95 L722,389.58 L722.5,390.14 L723,390.62 L723.5,391.04 L724,391.41 L724.5,391.73 L725,392.01 L725.5,392.25 L726,392.46 L726.5,392.64 L727,392.8 L727.5,392.94 L728,393.06 L728.5,393.17 L729,393.26 L729.5,393.35 L730,393.42 L730.5,393.49 L731,393.55 L731.5,393.61 L732,393.66 L732.5,393.71 L733,393.76 L733.5,393.8 L734,393.84 L734.5,393.87 L735,393.91 L735.5,393.94 L736,393.97 L736.5,394 L737,394.03 L737.5,394.06 L738,394.08 L738.5,394.11 L739,394.13 L739.5,394.15 L740,394.18 L740.5,394.2 L741,394.22 L741.5,394.24 L742,394.25 L742.5,394.27 L743,394.29 L743.5,394.31 L744,394.32 L744.5,394.34 L745,394.35 L745.5,394.37 L746,394.38 L746.5,394.4 L747,394.41 L747.5,394.42 L748,394.44 L748.5,394.45 L749,394.46 L749.5,394.47 L750,394.48 L750.5,394.49 L751,394.5 L751.5,394.51 L752,394.52 L752.5,394.53 L753,394.54 L753.5,394.55 L754,394.56 L754.5,394.57 L755,394.57 L755.5,394.58 L756,394.59 L756.5,394.6 L757,394.6 L757.5,394.61 L758,394.62 L758.5,394.63 L759,394.63 L759.5,394.64 L760,394.64 L760.5,394.65 L761,394.66 L761.5,394.66 L762,394.67 L762.5,394.67 L763,394.68 L763.5,394.68 L764,394.69 L764.5,394.69 L765,394.7 L765.5,394.7 L766,394.71" fill="none" stroke="#f23c3c" stroke-width="1.2"/>
<path d="M605.5,391.88 L606,391.87 L606.5,391.87 L607,391.87 L607.5,391.87 L608,391.87 L608.5,391.87 L609,391.87 L609.5,391.87 L610,391.86 L610.5,391.86 L611,391.86 L611.5,391.86 L612,391.86 L612.5,391.86 L613,391.86 L613.5,391.85 L614,391.85 L614.5,391.85 L615,391.85 L615.5,391.85 L616,391.85 L616.5,391.84 L617,391.84 L617.5,391.84 L618,391.84 L618.5,391.84 L619,391.84 L619.5,391.83 L620,391.83 L620.5,391.83 L621,391.83 L621.5,391.83 L622,391.82 L622.5,391.82 L623,391.82 L623.5,391.82 L624,391.82 L624.5,391.81 L625,391.81 L625.5,391.81 L626,391.8 L626.5,391.8 L627,391.8 L627.5,391.79 L628,391.79 L628.5,391.78 L629,391.77 L629.5,391.77 L630,391.75 L630.5,391.74 L631,391.73 L631.5,391.71 L632,391.68 L632.5,391.66 L633,391.62 L633.5,391.58 L634,391.53 L634.5,391.47 L635,391.4 L635.5,391.31 L636,391.21 L636.5,391.09 L637,390.95 L637.5,390.79 L638,390.59 L638.5,390.37 L639,390.1 L639.5,389.8 L640,389.45 L640.5,389.06 L641,388.61 L641.5,388.1 L642,387.52 L642.5,386.88 L643,386.16 L643.5,385.36 L644,384.47 L644.5,383.5 L645,382.43 L645.5,381.26 L646,379.99 L646.5,378.61 L647,377.12 L647.5,375.53 L648,373.83 L648.5,372.02 L649,370.1 L649.5,368.08 L650,365.95 L650.5,363.74 L651,361.43 L651.5,359.04 L652,356.58 L652.5,354.06 L653,351.49 L653.5,348.88 L654,346.25 L654.5,343.61 L655,340.99 L655.5,338.39 L656,335.85 L656.5,333.36 L657,330.97 L657.5,328.68 L658,326.51 L658.5,324.5 L659,322.64 L659.5,320.97 L660,319.5 L660.5,318.25 L661,317.23 L661.5,316.44 L662,315.91 L662.5,315.64 L663,315.64 L663.5,315.9 L664,316.42 L664.5,317.21 L665,318.25 L665.5,319.54 L666,321.07 L666.5,322.81 L667,324.76 L667.5,326.89 L668,329.18 L668.5,331.62 L669,334.17 L669.5,336.83 L670,339.55 L670.5,342.32 L671,345.12 L671.5,347.92 L672,350.71 L672.5,353.45 L673,356.13 L673.5,358.73 L674,361.24 L674.5,363.64 L675,365.91 L675.5,368.05 L676,370.05 L676.5,371.89 L677,373.57 L677.5,375.09 L678,376.43 L678.5,377.59 L679,378.58 L679.5,379.38 L680,380 L680.5,380.43 L681,380.68 L681.5,380.73 L682,380.59 L682.5,380.25 L683,379.72 L683.5,379 L684,378.07 L684.5,376.95 L685,375.64 L685.5,374.12 L686,372.42 L686.5,370.51 L687,368.42 L687.5,366.14 L688,363.68 L688.5,361.04 L689,358.23 L689.5,355.26 L690,352.13 L690.5,348.87 L691,345.47 L691.5,341.96 L692,338.34 L692.5,334.64 L693,330.88 L693.5,327.06 L694,323.22 L694.5,319.36 L695,315.53 L695.5,311.74 L696,308.01 L696.5,304.38 L697,300.88 L697.5,297.54 L698,294.4 L698.5,291.5 L699,288.88 L699.5,286.58 L700,284.65 L700.5,283.13 L701,282.06 L701.5,281.49 L702,281.43 L702.5,281.9 L703,282.91 L703.5,284.45 L704,286.48 L704.5,288.97 L705,291.89 L705.5,295.17 L706,298.77 L706.5,302.62 L707,306.68 L707.5,310.9 L708,315.23 L708.5,319.62 L709,324.04 L709.5,328.44 L710,332.8 L710.5,337.08 L711,341.26 L711.5,345.31 L712,349.22 L712.5,352.96 L713,356.53 L713.5,359.91 L714,363.09 L714.5,366.07 L715,368.85 L715.5,371.43 L716,373.8 L716.5,375.98 L717,377.98 L717.5,379.79 L718,381.43 L718.5,382.91 L719,384.23 L719.5,385.41 L720,386.46 L720.5,387.4 L721,388.22 L721.5,388.94 L722,389.58 L722.5,390.14 L723,390.62 L723.5,391.04 L724,391.41 L724.5,391.73 L725,392.01 L725.5,392.25 L726,392.46 L726.5,392.64 L727,392.8 L727.5,392.94 L728,393.06 L728.5,393.17 L729,393.26 L729.5,393.35 L730,393.42 L730.5,393.49 L731,393.55 L731.5,393.61 L732,393.66 L732.5,393.71 L733,393.76 L733.5,393.8 L734,393.84 L734.5,393.87 L735,393.91 L735.5,393.94 L736,393.97 L736.5,394 L737,394.03 L737.5,394.06 L738,394.08 L738.5,394.11 L739,394.13 L739.5,394.15 L740,394.18 L740.5,394.2 L741,394.22 L741.5,394.24 L742,394.25 L742.5,394.27 L743,394.29 L743.5,394.31 L744,394.32 L744.5,394.34 L745,394.35 L745.5,394.37 L746,394.38 L746.5,394.4 L747,394.41 L747.5,394.42 L748,394.44 L748.5,394.45 L749,394.46 L749.5,394.47 L750,394.48 L750.5,394.49 L751,394.5 L751.5,394.51 L752,394.52 L752.5,394.53 L753,394.54 L753.5,394.55 L754,394.56 L754.5,394.57 L755,394.57 L755.5,394.58 L756,394.59 L756.5,394.6 L757,394.6 L757.5,394.61 L758,394.62 L758.5,394.63 L759,394.63 L759.5,394.64 L760,394.64 L760.5,394.65 L761,394.66 L761.5,394.66 L762,394.67 L762.5,394.67 L763,394.68 L763.5,394.68 L764,394.69 L764.5,394.69 L765,394.7 L765.5,394.7 L766,394.71" fill="none" stroke="#e3a234" stroke-width="1.3" stroke-dasharray="3,1.5"/>
<text x="619.3" y="318.7" font-family='"Liberation Serif", serif' font-size="14" font-weight="normal" text-anchor="start" fill="#111" >184.3</text>
<text x="618.8" y="365.2" font-family='"Liberation Serif", serif' font-size="14" font-weight="normal" text-anchor="start" fill="#111" >184.9</text>
<text x="724.5" y="305.6" font-family='"Liberation Serif", serif' font-size="14" font-weight="normal" text-anchor="start" fill="#111" >181.9</text>
<text x="728.4" y="369.1" font-family='"Liberation Serif", serif' font-size="14" font-weight="normal" text-anchor="start" fill="#111" >182.5</text>
<line x1="650.2" y1="314" x2="655.71" y2="316.78" stroke="#111" stroke-width="1.1"/>
<polygon points="663.3,320.6 652.68,320.57 656.95,312.08" fill="#000"/>
<line x1="635" y1="366.5" x2="647.5" y2="373.71" stroke="#111" stroke-width="1.1"/>
<polygon points="655.3,378.2 644.39,377.11 648.88,369.31" fill="#000"/>
<line x1="717.8" y1="297.2" x2="711.54" y2="293.49" stroke="#111" stroke-width="1.1"/>
<polygon points="703.8,288.9 714.7,290.13 710.11,297.87" fill="#000"/>
<line x1="722" y1="361.3" x2="702.22" y2="370.13" stroke="#111" stroke-width="1.1"/>
<polygon points="694,373.8 701.3,365.61 704.97,373.83" fill="#000"/>
</svg>
</body></html>
